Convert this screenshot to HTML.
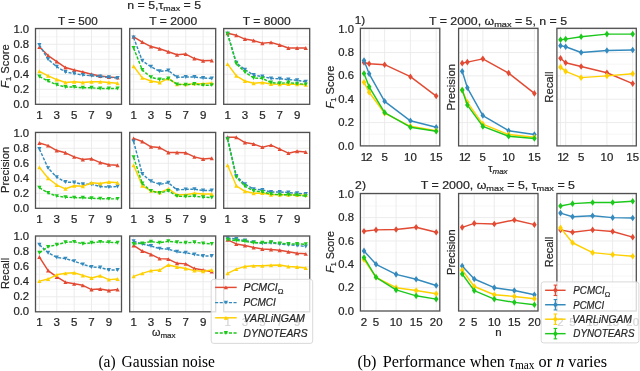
<!DOCTYPE html><html><head><meta charset="utf-8"><style>html,body{margin:0;padding:0;background:#fff;}svg{display:block;will-change:transform;}</style></head><body>
<svg width="640" height="371" viewBox="0 0 640 371" font-family='"Liberation Sans", sans-serif' fill="#262626">
<style>text{stroke:#262626;stroke-width:0.2px;} text.cap{stroke:#000;stroke-width:0px;}</style>
<rect width="640" height="371" fill="#fff"/>
<line x1="35.50" y1="96.80" x2="121.50" y2="96.80" stroke="#f4f4f4" stroke-width="0.8"/><line x1="35.50" y1="89.30" x2="121.50" y2="89.30" stroke="#eaeaea" stroke-width="0.9"/><line x1="35.50" y1="81.80" x2="121.50" y2="81.80" stroke="#f4f4f4" stroke-width="0.8"/><line x1="35.50" y1="74.30" x2="121.50" y2="74.30" stroke="#eaeaea" stroke-width="0.9"/><line x1="35.50" y1="66.80" x2="121.50" y2="66.80" stroke="#f4f4f4" stroke-width="0.8"/><line x1="35.50" y1="59.30" x2="121.50" y2="59.30" stroke="#eaeaea" stroke-width="0.9"/><line x1="35.50" y1="51.80" x2="121.50" y2="51.80" stroke="#f4f4f4" stroke-width="0.8"/><line x1="35.50" y1="44.30" x2="121.50" y2="44.30" stroke="#eaeaea" stroke-width="0.9"/><line x1="35.50" y1="36.80" x2="121.50" y2="36.80" stroke="#f4f4f4" stroke-width="0.8"/><line x1="35.50" y1="29.30" x2="121.50" y2="29.30" stroke="#eaeaea" stroke-width="0.9"/><line x1="39.41" y1="28.50" x2="39.41" y2="104.30" stroke="#eaeaea" stroke-width="0.9"/><line x1="56.78" y1="28.50" x2="56.78" y2="104.30" stroke="#eaeaea" stroke-width="0.9"/><line x1="74.16" y1="28.50" x2="74.16" y2="104.30" stroke="#eaeaea" stroke-width="0.9"/><line x1="91.53" y1="28.50" x2="91.53" y2="104.30" stroke="#eaeaea" stroke-width="0.9"/><line x1="108.90" y1="28.50" x2="108.90" y2="104.30" stroke="#eaeaea" stroke-width="0.9"/>
<polyline points="39.41,46.92 48.10,55.55 56.78,61.55 65.47,67.55 74.16,70.03 82.84,72.05 91.53,74.30 100.22,75.95 108.90,77.00 117.59,77.60" fill="none" stroke="#E24A33" stroke-width="1.45" stroke-linejoin="round"/>
<polygon points="39.41,44.97 37.31,48.88 41.51,48.88" fill="#E24A33"/><polygon points="48.10,53.60 46.00,57.50 50.20,57.50" fill="#E24A33"/><polygon points="56.78,59.60 54.68,63.50 58.88,63.50" fill="#E24A33"/><polygon points="65.47,65.60 63.37,69.50 67.57,69.50" fill="#E24A33"/><polygon points="74.16,68.08 72.06,71.98 76.26,71.98" fill="#E24A33"/><polygon points="82.84,70.10 80.74,74.00 84.94,74.00" fill="#E24A33"/><polygon points="91.53,72.35 89.43,76.25 93.63,76.25" fill="#E24A33"/><polygon points="100.22,74.00 98.12,77.90 102.32,77.90" fill="#E24A33"/><polygon points="108.90,75.05 106.80,78.95 111.00,78.95" fill="#E24A33"/><polygon points="117.59,75.65 115.49,79.55 119.69,79.55" fill="#E24A33"/>
<polyline points="39.41,45.05 48.10,59.30 56.78,66.80 65.47,72.05 74.16,73.55 82.84,75.05 91.53,75.80 100.22,76.55 108.90,77.30 117.59,78.05" fill="none" stroke="#348ABD" stroke-width="1.45" stroke-linejoin="round" stroke-dasharray="3.1,1.5"/>
<polygon points="39.41,47.00 37.31,43.10 41.51,43.10" fill="#348ABD"/><polygon points="48.10,61.25 46.00,57.35 50.20,57.35" fill="#348ABD"/><polygon points="56.78,68.75 54.68,64.85 58.88,64.85" fill="#348ABD"/><polygon points="65.47,74.00 63.37,70.10 67.57,70.10" fill="#348ABD"/><polygon points="74.16,75.50 72.06,71.60 76.26,71.60" fill="#348ABD"/><polygon points="82.84,77.00 80.74,73.10 84.94,73.10" fill="#348ABD"/><polygon points="91.53,77.75 89.43,73.85 93.63,73.85" fill="#348ABD"/><polygon points="100.22,78.50 98.12,74.60 102.32,74.60" fill="#348ABD"/><polygon points="108.90,79.25 106.80,75.35 111.00,75.35" fill="#348ABD"/><polygon points="117.59,80.00 115.49,76.10 119.69,76.10" fill="#348ABD"/>
<polyline points="39.41,71.30 48.10,75.80 56.78,79.55 65.47,82.55 74.16,81.80 82.84,82.55 91.53,81.80 100.22,81.80 108.90,82.55 117.59,83.30" fill="none" stroke="#FFD000" stroke-width="1.45" stroke-linejoin="round"/>
<polygon points="39.41,69.35 37.31,73.25 41.51,73.25" fill="#FFD000"/><polygon points="48.10,73.85 46.00,77.75 50.20,77.75" fill="#FFD000"/><polygon points="56.78,77.60 54.68,81.50 58.88,81.50" fill="#FFD000"/><polygon points="65.47,80.60 63.37,84.50 67.57,84.50" fill="#FFD000"/><polygon points="74.16,79.85 72.06,83.75 76.26,83.75" fill="#FFD000"/><polygon points="82.84,80.60 80.74,84.50 84.94,84.50" fill="#FFD000"/><polygon points="91.53,79.85 89.43,83.75 93.63,83.75" fill="#FFD000"/><polygon points="100.22,79.85 98.12,83.75 102.32,83.75" fill="#FFD000"/><polygon points="108.90,80.60 106.80,84.50 111.00,84.50" fill="#FFD000"/><polygon points="117.59,81.35 115.49,85.25 119.69,85.25" fill="#FFD000"/>
<polyline points="39.41,76.55 48.10,81.05 56.78,84.80 65.47,87.05 74.16,87.05 82.84,87.80 91.53,87.80 100.22,88.55 108.90,88.55 117.59,88.55" fill="none" stroke="#1DC81D" stroke-width="1.45" stroke-linejoin="round" stroke-dasharray="3.1,1.5"/>
<polygon points="39.41,78.50 37.31,74.60 41.51,74.60" fill="#1DC81D"/><polygon points="48.10,83.00 46.00,79.10 50.20,79.10" fill="#1DC81D"/><polygon points="56.78,86.75 54.68,82.85 58.88,82.85" fill="#1DC81D"/><polygon points="65.47,89.00 63.37,85.10 67.57,85.10" fill="#1DC81D"/><polygon points="74.16,89.00 72.06,85.10 76.26,85.10" fill="#1DC81D"/><polygon points="82.84,89.75 80.74,85.85 84.94,85.85" fill="#1DC81D"/><polygon points="91.53,89.75 89.43,85.85 93.63,85.85" fill="#1DC81D"/><polygon points="100.22,90.50 98.12,86.60 102.32,86.60" fill="#1DC81D"/><polygon points="108.90,90.50 106.80,86.60 111.00,86.60" fill="#1DC81D"/><polygon points="117.59,90.50 115.49,86.60 119.69,86.60" fill="#1DC81D"/>
<rect x="35.50" y="28.50" width="86.00" height="75.80" fill="none" stroke="#505050" stroke-width="1.3"/>
<text id="lxt001" x="39.409" y="118.900" font-size="10" text-anchor="middle" textLength="6.400" lengthAdjust="spacingAndGlyphs">1</text>
<text id="lxt003" x="56.783" y="118.900" font-size="10" text-anchor="middle" textLength="6.400" lengthAdjust="spacingAndGlyphs">3</text>
<text id="lxt005" x="74.157" y="118.900" font-size="10" text-anchor="middle" textLength="6.400" lengthAdjust="spacingAndGlyphs">5</text>
<text id="lxt007" x="91.530" y="118.900" font-size="10" text-anchor="middle" textLength="6.400" lengthAdjust="spacingAndGlyphs">7</text>
<text id="lxt009" x="108.904" y="118.900" font-size="10" text-anchor="middle" textLength="6.400" lengthAdjust="spacingAndGlyphs">9</text>
<text id="lyt00" x="29.100" y="107.900" font-size="10" text-anchor="end" textLength="15.700" lengthAdjust="spacingAndGlyphs">0.0</text>
<text id="lyt01" x="29.100" y="92.900" font-size="10" text-anchor="end" textLength="15.700" lengthAdjust="spacingAndGlyphs">0.2</text>
<text id="lyt02" x="29.100" y="77.900" font-size="10" text-anchor="end" textLength="15.700" lengthAdjust="spacingAndGlyphs">0.4</text>
<text id="lyt03" x="29.100" y="62.900" font-size="10" text-anchor="end" textLength="15.700" lengthAdjust="spacingAndGlyphs">0.6</text>
<text id="lyt04" x="29.100" y="47.900" font-size="10" text-anchor="end" textLength="15.700" lengthAdjust="spacingAndGlyphs">0.8</text>
<text id="lyt05" x="29.100" y="32.900" font-size="10" text-anchor="end" textLength="15.700" lengthAdjust="spacingAndGlyphs">1.0</text>
<line x1="129.70" y1="96.80" x2="215.70" y2="96.80" stroke="#f4f4f4" stroke-width="0.8"/><line x1="129.70" y1="89.30" x2="215.70" y2="89.30" stroke="#eaeaea" stroke-width="0.9"/><line x1="129.70" y1="81.80" x2="215.70" y2="81.80" stroke="#f4f4f4" stroke-width="0.8"/><line x1="129.70" y1="74.30" x2="215.70" y2="74.30" stroke="#eaeaea" stroke-width="0.9"/><line x1="129.70" y1="66.80" x2="215.70" y2="66.80" stroke="#f4f4f4" stroke-width="0.8"/><line x1="129.70" y1="59.30" x2="215.70" y2="59.30" stroke="#eaeaea" stroke-width="0.9"/><line x1="129.70" y1="51.80" x2="215.70" y2="51.80" stroke="#f4f4f4" stroke-width="0.8"/><line x1="129.70" y1="44.30" x2="215.70" y2="44.30" stroke="#eaeaea" stroke-width="0.9"/><line x1="129.70" y1="36.80" x2="215.70" y2="36.80" stroke="#f4f4f4" stroke-width="0.8"/><line x1="129.70" y1="29.30" x2="215.70" y2="29.30" stroke="#eaeaea" stroke-width="0.9"/><line x1="133.61" y1="28.50" x2="133.61" y2="104.30" stroke="#eaeaea" stroke-width="0.9"/><line x1="150.98" y1="28.50" x2="150.98" y2="104.30" stroke="#eaeaea" stroke-width="0.9"/><line x1="168.36" y1="28.50" x2="168.36" y2="104.30" stroke="#eaeaea" stroke-width="0.9"/><line x1="185.73" y1="28.50" x2="185.73" y2="104.30" stroke="#eaeaea" stroke-width="0.9"/><line x1="203.10" y1="28.50" x2="203.10" y2="104.30" stroke="#eaeaea" stroke-width="0.9"/>
<polyline points="133.61,36.80 142.30,42.05 150.98,46.55 159.67,48.80 168.36,51.80 177.04,54.80 185.73,54.05 194.42,58.55 203.10,60.80 211.79,60.42" fill="none" stroke="#E24A33" stroke-width="1.45" stroke-linejoin="round"/>
<polygon points="133.61,34.85 131.51,38.75 135.71,38.75" fill="#E24A33"/><polygon points="142.30,40.10 140.20,44.00 144.40,44.00" fill="#E24A33"/><polygon points="150.98,44.60 148.88,48.50 153.08,48.50" fill="#E24A33"/><polygon points="159.67,46.85 157.57,50.75 161.77,50.75" fill="#E24A33"/><polygon points="168.36,49.85 166.26,53.75 170.46,53.75" fill="#E24A33"/><polygon points="177.04,52.85 174.94,56.75 179.14,56.75" fill="#E24A33"/><polygon points="185.73,52.10 183.63,56.00 187.83,56.00" fill="#E24A33"/><polygon points="194.42,56.60 192.32,60.50 196.52,60.50" fill="#E24A33"/><polygon points="203.10,58.85 201.00,62.75 205.20,62.75" fill="#E24A33"/><polygon points="211.79,58.47 209.69,62.38 213.89,62.38" fill="#E24A33"/>
<polyline points="133.61,37.55 142.30,60.80 150.98,66.80 159.67,71.30 168.36,70.55 177.04,77.30 185.73,77.00 194.42,77.00 203.10,78.05 211.79,78.42" fill="none" stroke="#348ABD" stroke-width="1.45" stroke-linejoin="round" stroke-dasharray="3.1,1.5"/>
<polygon points="133.61,39.50 131.51,35.60 135.71,35.60" fill="#348ABD"/><polygon points="142.30,62.75 140.20,58.85 144.40,58.85" fill="#348ABD"/><polygon points="150.98,68.75 148.88,64.85 153.08,64.85" fill="#348ABD"/><polygon points="159.67,73.25 157.57,69.35 161.77,69.35" fill="#348ABD"/><polygon points="168.36,72.50 166.26,68.60 170.46,68.60" fill="#348ABD"/><polygon points="177.04,79.25 174.94,75.35 179.14,75.35" fill="#348ABD"/><polygon points="185.73,78.95 183.63,75.05 187.83,75.05" fill="#348ABD"/><polygon points="194.42,78.95 192.32,75.05 196.52,75.05" fill="#348ABD"/><polygon points="203.10,80.00 201.00,76.10 205.20,76.10" fill="#348ABD"/><polygon points="211.79,80.38 209.69,76.47 213.89,76.47" fill="#348ABD"/>
<polyline points="133.61,66.28 142.30,77.83 150.98,81.05 159.67,82.55 168.36,78.42 177.04,84.35 185.73,84.35 194.42,83.67 203.10,83.67 211.79,83.08" fill="none" stroke="#FFD000" stroke-width="1.45" stroke-linejoin="round"/>
<polygon points="133.61,64.33 131.51,68.23 135.71,68.23" fill="#FFD000"/><polygon points="142.30,75.88 140.20,79.78 144.40,79.78" fill="#FFD000"/><polygon points="150.98,79.10 148.88,83.00 153.08,83.00" fill="#FFD000"/><polygon points="159.67,80.60 157.57,84.50 161.77,84.50" fill="#FFD000"/><polygon points="168.36,76.47 166.26,80.38 170.46,80.38" fill="#FFD000"/><polygon points="177.04,82.40 174.94,86.30 179.14,86.30" fill="#FFD000"/><polygon points="185.73,82.40 183.63,86.30 187.83,86.30" fill="#FFD000"/><polygon points="194.42,81.72 192.32,85.62 196.52,85.62" fill="#FFD000"/><polygon points="203.10,81.72 201.00,85.62 205.20,85.62" fill="#FFD000"/><polygon points="211.79,81.12 209.69,85.03 213.89,85.03" fill="#FFD000"/>
<polyline points="133.61,48.05 142.30,70.03 150.98,77.30 159.67,79.55 168.36,78.42 177.04,84.35 185.73,84.80 194.42,84.05 203.10,85.17 211.79,85.17" fill="none" stroke="#1DC81D" stroke-width="1.45" stroke-linejoin="round" stroke-dasharray="3.1,1.5"/>
<polygon points="133.61,50.00 131.51,46.10 135.71,46.10" fill="#1DC81D"/><polygon points="142.30,71.98 140.20,68.08 144.40,68.08" fill="#1DC81D"/><polygon points="150.98,79.25 148.88,75.35 153.08,75.35" fill="#1DC81D"/><polygon points="159.67,81.50 157.57,77.60 161.77,77.60" fill="#1DC81D"/><polygon points="168.36,80.38 166.26,76.47 170.46,76.47" fill="#1DC81D"/><polygon points="177.04,86.30 174.94,82.40 179.14,82.40" fill="#1DC81D"/><polygon points="185.73,86.75 183.63,82.85 187.83,82.85" fill="#1DC81D"/><polygon points="194.42,86.00 192.32,82.10 196.52,82.10" fill="#1DC81D"/><polygon points="203.10,87.12 201.00,83.22 205.20,83.22" fill="#1DC81D"/><polygon points="211.79,87.12 209.69,83.22 213.89,83.22" fill="#1DC81D"/>
<rect x="129.70" y="28.50" width="86.00" height="75.80" fill="none" stroke="#505050" stroke-width="1.3"/>
<text id="lxt011" x="133.609" y="118.900" font-size="10" text-anchor="middle" textLength="6.400" lengthAdjust="spacingAndGlyphs">1</text>
<text id="lxt013" x="150.983" y="118.900" font-size="10" text-anchor="middle" textLength="6.400" lengthAdjust="spacingAndGlyphs">3</text>
<text id="lxt015" x="168.357" y="118.900" font-size="10" text-anchor="middle" textLength="6.400" lengthAdjust="spacingAndGlyphs">5</text>
<text id="lxt017" x="185.730" y="118.900" font-size="10" text-anchor="middle" textLength="6.400" lengthAdjust="spacingAndGlyphs">7</text>
<text id="lxt019" x="203.104" y="118.900" font-size="10" text-anchor="middle" textLength="6.400" lengthAdjust="spacingAndGlyphs">9</text>
<line x1="223.70" y1="96.80" x2="309.70" y2="96.80" stroke="#f4f4f4" stroke-width="0.8"/><line x1="223.70" y1="89.30" x2="309.70" y2="89.30" stroke="#eaeaea" stroke-width="0.9"/><line x1="223.70" y1="81.80" x2="309.70" y2="81.80" stroke="#f4f4f4" stroke-width="0.8"/><line x1="223.70" y1="74.30" x2="309.70" y2="74.30" stroke="#eaeaea" stroke-width="0.9"/><line x1="223.70" y1="66.80" x2="309.70" y2="66.80" stroke="#f4f4f4" stroke-width="0.8"/><line x1="223.70" y1="59.30" x2="309.70" y2="59.30" stroke="#eaeaea" stroke-width="0.9"/><line x1="223.70" y1="51.80" x2="309.70" y2="51.80" stroke="#f4f4f4" stroke-width="0.8"/><line x1="223.70" y1="44.30" x2="309.70" y2="44.30" stroke="#eaeaea" stroke-width="0.9"/><line x1="223.70" y1="36.80" x2="309.70" y2="36.80" stroke="#f4f4f4" stroke-width="0.8"/><line x1="223.70" y1="29.30" x2="309.70" y2="29.30" stroke="#eaeaea" stroke-width="0.9"/><line x1="227.61" y1="28.50" x2="227.61" y2="104.30" stroke="#eaeaea" stroke-width="0.9"/><line x1="244.98" y1="28.50" x2="244.98" y2="104.30" stroke="#eaeaea" stroke-width="0.9"/><line x1="262.36" y1="28.50" x2="262.36" y2="104.30" stroke="#eaeaea" stroke-width="0.9"/><line x1="279.73" y1="28.50" x2="279.73" y2="104.30" stroke="#eaeaea" stroke-width="0.9"/><line x1="297.10" y1="28.50" x2="297.10" y2="104.30" stroke="#eaeaea" stroke-width="0.9"/>
<polyline points="227.61,33.28 236.30,35.30 244.98,39.05 253.67,40.55 262.36,43.18 271.04,42.35 279.73,45.05 288.42,48.05 297.10,48.05 305.79,48.05" fill="none" stroke="#E24A33" stroke-width="1.45" stroke-linejoin="round"/>
<polygon points="227.61,31.33 225.51,35.23 229.71,35.23" fill="#E24A33"/><polygon points="236.30,33.35 234.20,37.25 238.40,37.25" fill="#E24A33"/><polygon points="244.98,37.10 242.88,41.00 247.08,41.00" fill="#E24A33"/><polygon points="253.67,38.60 251.57,42.50 255.77,42.50" fill="#E24A33"/><polygon points="262.36,41.23 260.26,45.13 264.46,45.13" fill="#E24A33"/><polygon points="271.04,40.40 268.94,44.30 273.14,44.30" fill="#E24A33"/><polygon points="279.73,43.10 277.63,47.00 281.83,47.00" fill="#E24A33"/><polygon points="288.42,46.10 286.32,50.00 290.52,50.00" fill="#E24A33"/><polygon points="297.10,46.10 295.00,50.00 299.20,50.00" fill="#E24A33"/><polygon points="305.79,46.10 303.69,50.00 307.89,50.00" fill="#E24A33"/>
<polyline points="227.61,33.80 236.30,62.67 244.98,69.80 253.67,75.05 262.36,76.55 271.04,78.42 279.73,78.80 288.42,79.55 297.10,80.30 305.79,81.80" fill="none" stroke="#348ABD" stroke-width="1.45" stroke-linejoin="round" stroke-dasharray="3.1,1.5"/>
<polygon points="227.61,35.75 225.51,31.85 229.71,31.85" fill="#348ABD"/><polygon points="236.30,64.62 234.20,60.72 238.40,60.72" fill="#348ABD"/><polygon points="244.98,71.75 242.88,67.85 247.08,67.85" fill="#348ABD"/><polygon points="253.67,77.00 251.57,73.10 255.77,73.10" fill="#348ABD"/><polygon points="262.36,78.50 260.26,74.60 264.46,74.60" fill="#348ABD"/><polygon points="271.04,80.38 268.94,76.47 273.14,76.47" fill="#348ABD"/><polygon points="279.73,80.75 277.63,76.85 281.83,76.85" fill="#348ABD"/><polygon points="288.42,81.50 286.32,77.60 290.52,77.60" fill="#348ABD"/><polygon points="297.10,82.25 295.00,78.35 299.20,78.35" fill="#348ABD"/><polygon points="305.79,83.75 303.69,79.85 307.89,79.85" fill="#348ABD"/>
<polyline points="227.61,64.17 236.30,75.80 244.98,81.05 253.67,83.30 262.36,82.55 271.04,84.05 279.73,84.35 288.42,84.05 297.10,84.35 305.79,84.80" fill="none" stroke="#FFD000" stroke-width="1.45" stroke-linejoin="round"/>
<polygon points="227.61,62.22 225.51,66.12 229.71,66.12" fill="#FFD000"/><polygon points="236.30,73.85 234.20,77.75 238.40,77.75" fill="#FFD000"/><polygon points="244.98,79.10 242.88,83.00 247.08,83.00" fill="#FFD000"/><polygon points="253.67,81.35 251.57,85.25 255.77,85.25" fill="#FFD000"/><polygon points="262.36,80.60 260.26,84.50 264.46,84.50" fill="#FFD000"/><polygon points="271.04,82.10 268.94,86.00 273.14,86.00" fill="#FFD000"/><polygon points="279.73,82.40 277.63,86.30 281.83,86.30" fill="#FFD000"/><polygon points="288.42,82.10 286.32,86.00 290.52,86.00" fill="#FFD000"/><polygon points="297.10,82.40 295.00,86.30 299.20,86.30" fill="#FFD000"/><polygon points="305.79,82.85 303.69,86.75 307.89,86.75" fill="#FFD000"/>
<polyline points="227.61,33.80 236.30,63.80 244.98,72.05 253.67,78.05 262.36,78.42 271.04,82.55 279.73,83.30 288.42,82.55 297.10,83.67 305.79,84.35" fill="none" stroke="#1DC81D" stroke-width="1.45" stroke-linejoin="round" stroke-dasharray="3.1,1.5"/>
<polygon points="227.61,35.75 225.51,31.85 229.71,31.85" fill="#1DC81D"/><polygon points="236.30,65.75 234.20,61.85 238.40,61.85" fill="#1DC81D"/><polygon points="244.98,74.00 242.88,70.10 247.08,70.10" fill="#1DC81D"/><polygon points="253.67,80.00 251.57,76.10 255.77,76.10" fill="#1DC81D"/><polygon points="262.36,80.38 260.26,76.47 264.46,76.47" fill="#1DC81D"/><polygon points="271.04,84.50 268.94,80.60 273.14,80.60" fill="#1DC81D"/><polygon points="279.73,85.25 277.63,81.35 281.83,81.35" fill="#1DC81D"/><polygon points="288.42,84.50 286.32,80.60 290.52,80.60" fill="#1DC81D"/><polygon points="297.10,85.62 295.00,81.72 299.20,81.72" fill="#1DC81D"/><polygon points="305.79,86.30 303.69,82.40 307.89,82.40" fill="#1DC81D"/>
<rect x="223.70" y="28.50" width="86.00" height="75.80" fill="none" stroke="#505050" stroke-width="1.3"/>
<text id="lxt021" x="227.609" y="118.900" font-size="10" text-anchor="middle" textLength="6.400" lengthAdjust="spacingAndGlyphs">1</text>
<text id="lxt023" x="244.983" y="118.900" font-size="10" text-anchor="middle" textLength="6.400" lengthAdjust="spacingAndGlyphs">3</text>
<text id="lxt025" x="262.357" y="118.900" font-size="10" text-anchor="middle" textLength="6.400" lengthAdjust="spacingAndGlyphs">5</text>
<text id="lxt027" x="279.730" y="118.900" font-size="10" text-anchor="middle" textLength="6.400" lengthAdjust="spacingAndGlyphs">7</text>
<text id="lxt029" x="297.104" y="118.900" font-size="10" text-anchor="middle" textLength="6.400" lengthAdjust="spacingAndGlyphs">9</text>
<line x1="35.50" y1="200.80" x2="121.50" y2="200.80" stroke="#f4f4f4" stroke-width="0.8"/><line x1="35.50" y1="193.30" x2="121.50" y2="193.30" stroke="#eaeaea" stroke-width="0.9"/><line x1="35.50" y1="185.80" x2="121.50" y2="185.80" stroke="#f4f4f4" stroke-width="0.8"/><line x1="35.50" y1="178.30" x2="121.50" y2="178.30" stroke="#eaeaea" stroke-width="0.9"/><line x1="35.50" y1="170.80" x2="121.50" y2="170.80" stroke="#f4f4f4" stroke-width="0.8"/><line x1="35.50" y1="163.30" x2="121.50" y2="163.30" stroke="#eaeaea" stroke-width="0.9"/><line x1="35.50" y1="155.80" x2="121.50" y2="155.80" stroke="#f4f4f4" stroke-width="0.8"/><line x1="35.50" y1="148.30" x2="121.50" y2="148.30" stroke="#eaeaea" stroke-width="0.9"/><line x1="35.50" y1="140.80" x2="121.50" y2="140.80" stroke="#f4f4f4" stroke-width="0.8"/><line x1="35.50" y1="133.30" x2="121.50" y2="133.30" stroke="#eaeaea" stroke-width="0.9"/><line x1="39.41" y1="132.40" x2="39.41" y2="208.30" stroke="#eaeaea" stroke-width="0.9"/><line x1="56.78" y1="132.40" x2="56.78" y2="208.30" stroke="#eaeaea" stroke-width="0.9"/><line x1="74.16" y1="132.40" x2="74.16" y2="208.30" stroke="#eaeaea" stroke-width="0.9"/><line x1="91.53" y1="132.40" x2="91.53" y2="208.30" stroke="#eaeaea" stroke-width="0.9"/><line x1="108.90" y1="132.40" x2="108.90" y2="208.30" stroke="#eaeaea" stroke-width="0.9"/>
<polyline points="39.41,143.05 48.10,145.68 56.78,150.55 65.47,152.80 74.16,156.85 82.84,159.55 91.53,158.80 100.22,162.55 108.90,164.80 117.59,165.25" fill="none" stroke="#E24A33" stroke-width="1.45" stroke-linejoin="round"/>
<polygon points="39.41,141.10 37.31,145.00 41.51,145.00" fill="#E24A33"/><polygon points="48.10,143.73 46.00,147.62 50.20,147.62" fill="#E24A33"/><polygon points="56.78,148.60 54.68,152.50 58.88,152.50" fill="#E24A33"/><polygon points="65.47,150.85 63.37,154.75 67.57,154.75" fill="#E24A33"/><polygon points="74.16,154.90 72.06,158.80 76.26,158.80" fill="#E24A33"/><polygon points="82.84,157.60 80.74,161.50 84.94,161.50" fill="#E24A33"/><polygon points="91.53,156.85 89.43,160.75 93.63,160.75" fill="#E24A33"/><polygon points="100.22,160.60 98.12,164.50 102.32,164.50" fill="#E24A33"/><polygon points="108.90,162.85 106.80,166.75 111.00,166.75" fill="#E24A33"/><polygon points="117.59,163.30 115.49,167.20 119.69,167.20" fill="#E24A33"/>
<polyline points="39.41,149.05 48.10,168.18 56.78,177.18 65.47,182.05 74.16,182.43 82.84,184.30 91.53,184.30 100.22,186.55 108.90,187.08 117.59,186.55" fill="none" stroke="#348ABD" stroke-width="1.45" stroke-linejoin="round" stroke-dasharray="3.1,1.5"/>
<polygon points="39.41,151.00 37.31,147.10 41.51,147.10" fill="#348ABD"/><polygon points="48.10,170.12 46.00,166.23 50.20,166.23" fill="#348ABD"/><polygon points="56.78,179.12 54.68,175.23 58.88,175.23" fill="#348ABD"/><polygon points="65.47,184.00 63.37,180.10 67.57,180.10" fill="#348ABD"/><polygon points="74.16,184.38 72.06,180.48 76.26,180.48" fill="#348ABD"/><polygon points="82.84,186.25 80.74,182.35 84.94,182.35" fill="#348ABD"/><polygon points="91.53,186.25 89.43,182.35 93.63,182.35" fill="#348ABD"/><polygon points="100.22,188.50 98.12,184.60 102.32,184.60" fill="#348ABD"/><polygon points="108.90,189.03 106.80,185.13 111.00,185.13" fill="#348ABD"/><polygon points="117.59,188.50 115.49,184.60 119.69,184.60" fill="#348ABD"/>
<polyline points="39.41,167.35 48.10,178.30 56.78,185.05 65.47,188.80 74.16,185.80 82.84,186.25 91.53,182.80 100.22,183.55 108.90,182.05 117.59,182.80" fill="none" stroke="#FFD000" stroke-width="1.45" stroke-linejoin="round"/>
<polygon points="39.41,165.40 37.31,169.30 41.51,169.30" fill="#FFD000"/><polygon points="48.10,176.35 46.00,180.25 50.20,180.25" fill="#FFD000"/><polygon points="56.78,183.10 54.68,187.00 58.88,187.00" fill="#FFD000"/><polygon points="65.47,186.85 63.37,190.75 67.57,190.75" fill="#FFD000"/><polygon points="74.16,183.85 72.06,187.75 76.26,187.75" fill="#FFD000"/><polygon points="82.84,184.30 80.74,188.20 84.94,188.20" fill="#FFD000"/><polygon points="91.53,180.85 89.43,184.75 93.63,184.75" fill="#FFD000"/><polygon points="100.22,181.60 98.12,185.50 102.32,185.50" fill="#FFD000"/><polygon points="108.90,180.10 106.80,184.00 111.00,184.00" fill="#FFD000"/><polygon points="117.59,180.85 115.49,184.75 119.69,184.75" fill="#FFD000"/>
<polyline points="39.41,187.68 48.10,193.00 56.78,196.15 65.47,197.20 74.16,197.58 82.84,197.80 91.53,198.25 100.22,198.62 108.90,198.85 117.59,198.85" fill="none" stroke="#1DC81D" stroke-width="1.45" stroke-linejoin="round" stroke-dasharray="3.1,1.5"/>
<polygon points="39.41,189.62 37.31,185.73 41.51,185.73" fill="#1DC81D"/><polygon points="48.10,194.95 46.00,191.05 50.20,191.05" fill="#1DC81D"/><polygon points="56.78,198.10 54.68,194.20 58.88,194.20" fill="#1DC81D"/><polygon points="65.47,199.15 63.37,195.25 67.57,195.25" fill="#1DC81D"/><polygon points="74.16,199.53 72.06,195.63 76.26,195.63" fill="#1DC81D"/><polygon points="82.84,199.75 80.74,195.85 84.94,195.85" fill="#1DC81D"/><polygon points="91.53,200.20 89.43,196.30 93.63,196.30" fill="#1DC81D"/><polygon points="100.22,200.57 98.12,196.68 102.32,196.68" fill="#1DC81D"/><polygon points="108.90,200.80 106.80,196.90 111.00,196.90" fill="#1DC81D"/><polygon points="117.59,200.80 115.49,196.90 119.69,196.90" fill="#1DC81D"/>
<rect x="35.50" y="132.40" width="86.00" height="75.90" fill="none" stroke="#505050" stroke-width="1.3"/>
<text id="lxt101" x="39.409" y="222.900" font-size="10" text-anchor="middle" textLength="6.400" lengthAdjust="spacingAndGlyphs">1</text>
<text id="lxt103" x="56.783" y="222.900" font-size="10" text-anchor="middle" textLength="6.400" lengthAdjust="spacingAndGlyphs">3</text>
<text id="lxt105" x="74.157" y="222.900" font-size="10" text-anchor="middle" textLength="6.400" lengthAdjust="spacingAndGlyphs">5</text>
<text id="lxt107" x="91.530" y="222.900" font-size="10" text-anchor="middle" textLength="6.400" lengthAdjust="spacingAndGlyphs">7</text>
<text id="lxt109" x="108.904" y="222.900" font-size="10" text-anchor="middle" textLength="6.400" lengthAdjust="spacingAndGlyphs">9</text>
<text id="lyt10" x="29.100" y="211.900" font-size="10" text-anchor="end" textLength="15.700" lengthAdjust="spacingAndGlyphs">0.0</text>
<text id="lyt11" x="29.100" y="196.900" font-size="10" text-anchor="end" textLength="15.700" lengthAdjust="spacingAndGlyphs">0.2</text>
<text id="lyt12" x="29.100" y="181.900" font-size="10" text-anchor="end" textLength="15.700" lengthAdjust="spacingAndGlyphs">0.4</text>
<text id="lyt13" x="29.100" y="166.900" font-size="10" text-anchor="end" textLength="15.700" lengthAdjust="spacingAndGlyphs">0.6</text>
<text id="lyt14" x="29.100" y="151.900" font-size="10" text-anchor="end" textLength="15.700" lengthAdjust="spacingAndGlyphs">0.8</text>
<text id="lyt15" x="29.100" y="136.900" font-size="10" text-anchor="end" textLength="15.700" lengthAdjust="spacingAndGlyphs">1.0</text>
<line x1="129.70" y1="200.80" x2="215.70" y2="200.80" stroke="#f4f4f4" stroke-width="0.8"/><line x1="129.70" y1="193.30" x2="215.70" y2="193.30" stroke="#eaeaea" stroke-width="0.9"/><line x1="129.70" y1="185.80" x2="215.70" y2="185.80" stroke="#f4f4f4" stroke-width="0.8"/><line x1="129.70" y1="178.30" x2="215.70" y2="178.30" stroke="#eaeaea" stroke-width="0.9"/><line x1="129.70" y1="170.80" x2="215.70" y2="170.80" stroke="#f4f4f4" stroke-width="0.8"/><line x1="129.70" y1="163.30" x2="215.70" y2="163.30" stroke="#eaeaea" stroke-width="0.9"/><line x1="129.70" y1="155.80" x2="215.70" y2="155.80" stroke="#f4f4f4" stroke-width="0.8"/><line x1="129.70" y1="148.30" x2="215.70" y2="148.30" stroke="#eaeaea" stroke-width="0.9"/><line x1="129.70" y1="140.80" x2="215.70" y2="140.80" stroke="#f4f4f4" stroke-width="0.8"/><line x1="129.70" y1="133.30" x2="215.70" y2="133.30" stroke="#eaeaea" stroke-width="0.9"/><line x1="133.61" y1="132.40" x2="133.61" y2="208.30" stroke="#eaeaea" stroke-width="0.9"/><line x1="150.98" y1="132.40" x2="150.98" y2="208.30" stroke="#eaeaea" stroke-width="0.9"/><line x1="168.36" y1="132.40" x2="168.36" y2="208.30" stroke="#eaeaea" stroke-width="0.9"/><line x1="185.73" y1="132.40" x2="185.73" y2="208.30" stroke="#eaeaea" stroke-width="0.9"/><line x1="203.10" y1="132.40" x2="203.10" y2="208.30" stroke="#eaeaea" stroke-width="0.9"/>
<polyline points="133.61,138.32 142.30,141.55 150.98,146.80 159.67,147.55 168.36,152.43 177.04,152.43 185.73,152.80 194.42,156.85 203.10,158.95 211.79,158.28" fill="none" stroke="#E24A33" stroke-width="1.45" stroke-linejoin="round"/>
<polygon points="133.61,136.38 131.51,140.27 135.71,140.27" fill="#E24A33"/><polygon points="142.30,139.60 140.20,143.50 144.40,143.50" fill="#E24A33"/><polygon points="150.98,144.85 148.88,148.75 153.08,148.75" fill="#E24A33"/><polygon points="159.67,145.60 157.57,149.50 161.77,149.50" fill="#E24A33"/><polygon points="168.36,150.48 166.26,154.38 170.46,154.38" fill="#E24A33"/><polygon points="177.04,150.48 174.94,154.38 179.14,154.38" fill="#E24A33"/><polygon points="185.73,150.85 183.63,154.75 187.83,154.75" fill="#E24A33"/><polygon points="194.42,154.90 192.32,158.80 196.52,158.80" fill="#E24A33"/><polygon points="203.10,157.00 201.00,160.90 205.20,160.90" fill="#E24A33"/><polygon points="211.79,156.33 209.69,160.22 213.89,160.22" fill="#E24A33"/>
<polyline points="133.61,141.55 142.30,174.03 150.98,181.30 159.67,184.30 168.36,182.80 177.04,189.85 185.73,189.40 194.42,189.18 203.10,190.45 211.79,190.45" fill="none" stroke="#348ABD" stroke-width="1.45" stroke-linejoin="round" stroke-dasharray="3.1,1.5"/>
<polygon points="133.61,143.50 131.51,139.60 135.71,139.60" fill="#348ABD"/><polygon points="142.30,175.97 140.20,172.08 144.40,172.08" fill="#348ABD"/><polygon points="150.98,183.25 148.88,179.35 153.08,179.35" fill="#348ABD"/><polygon points="159.67,186.25 157.57,182.35 161.77,182.35" fill="#348ABD"/><polygon points="168.36,184.75 166.26,180.85 170.46,180.85" fill="#348ABD"/><polygon points="177.04,191.80 174.94,187.90 179.14,187.90" fill="#348ABD"/><polygon points="185.73,191.35 183.63,187.45 187.83,187.45" fill="#348ABD"/><polygon points="194.42,191.12 192.32,187.23 196.52,187.23" fill="#348ABD"/><polygon points="203.10,192.40 201.00,188.50 205.20,188.50" fill="#348ABD"/><polygon points="211.79,192.40 209.69,188.50 213.89,188.50" fill="#348ABD"/>
<polyline points="133.61,165.25 142.30,185.80 150.98,190.90 159.67,192.55 168.36,188.80 177.04,194.80 185.73,194.80 194.42,193.30 203.10,194.05 211.79,194.05" fill="none" stroke="#FFD000" stroke-width="1.45" stroke-linejoin="round"/>
<polygon points="133.61,163.30 131.51,167.20 135.71,167.20" fill="#FFD000"/><polygon points="142.30,183.85 140.20,187.75 144.40,187.75" fill="#FFD000"/><polygon points="150.98,188.95 148.88,192.85 153.08,192.85" fill="#FFD000"/><polygon points="159.67,190.60 157.57,194.50 161.77,194.50" fill="#FFD000"/><polygon points="168.36,186.85 166.26,190.75 170.46,190.75" fill="#FFD000"/><polygon points="177.04,192.85 174.94,196.75 179.14,196.75" fill="#FFD000"/><polygon points="185.73,192.85 183.63,196.75 187.83,196.75" fill="#FFD000"/><polygon points="194.42,191.35 192.32,195.25 196.52,195.25" fill="#FFD000"/><polygon points="203.10,192.10 201.00,196.00 205.20,196.00" fill="#FFD000"/><polygon points="211.79,192.10 209.69,196.00 213.89,196.00" fill="#FFD000"/>
<polyline points="133.61,157.30 142.30,183.55 150.98,190.90 159.67,193.00 168.36,190.90 177.04,196.15 185.73,196.53 194.42,196.15 203.10,197.20 211.79,197.58" fill="none" stroke="#1DC81D" stroke-width="1.45" stroke-linejoin="round" stroke-dasharray="3.1,1.5"/>
<polygon points="133.61,159.25 131.51,155.35 135.71,155.35" fill="#1DC81D"/><polygon points="142.30,185.50 140.20,181.60 144.40,181.60" fill="#1DC81D"/><polygon points="150.98,192.85 148.88,188.95 153.08,188.95" fill="#1DC81D"/><polygon points="159.67,194.95 157.57,191.05 161.77,191.05" fill="#1DC81D"/><polygon points="168.36,192.85 166.26,188.95 170.46,188.95" fill="#1DC81D"/><polygon points="177.04,198.10 174.94,194.20 179.14,194.20" fill="#1DC81D"/><polygon points="185.73,198.47 183.63,194.58 187.83,194.58" fill="#1DC81D"/><polygon points="194.42,198.10 192.32,194.20 196.52,194.20" fill="#1DC81D"/><polygon points="203.10,199.15 201.00,195.25 205.20,195.25" fill="#1DC81D"/><polygon points="211.79,199.53 209.69,195.63 213.89,195.63" fill="#1DC81D"/>
<rect x="129.70" y="132.40" width="86.00" height="75.90" fill="none" stroke="#505050" stroke-width="1.3"/>
<text id="lxt111" x="133.609" y="222.900" font-size="10" text-anchor="middle" textLength="6.400" lengthAdjust="spacingAndGlyphs">1</text>
<text id="lxt113" x="150.983" y="222.900" font-size="10" text-anchor="middle" textLength="6.400" lengthAdjust="spacingAndGlyphs">3</text>
<text id="lxt115" x="168.357" y="222.900" font-size="10" text-anchor="middle" textLength="6.400" lengthAdjust="spacingAndGlyphs">5</text>
<text id="lxt117" x="185.730" y="222.900" font-size="10" text-anchor="middle" textLength="6.400" lengthAdjust="spacingAndGlyphs">7</text>
<text id="lxt119" x="203.104" y="222.900" font-size="10" text-anchor="middle" textLength="6.400" lengthAdjust="spacingAndGlyphs">9</text>
<line x1="223.70" y1="200.80" x2="309.70" y2="200.80" stroke="#f4f4f4" stroke-width="0.8"/><line x1="223.70" y1="193.30" x2="309.70" y2="193.30" stroke="#eaeaea" stroke-width="0.9"/><line x1="223.70" y1="185.80" x2="309.70" y2="185.80" stroke="#f4f4f4" stroke-width="0.8"/><line x1="223.70" y1="178.30" x2="309.70" y2="178.30" stroke="#eaeaea" stroke-width="0.9"/><line x1="223.70" y1="170.80" x2="309.70" y2="170.80" stroke="#f4f4f4" stroke-width="0.8"/><line x1="223.70" y1="163.30" x2="309.70" y2="163.30" stroke="#eaeaea" stroke-width="0.9"/><line x1="223.70" y1="155.80" x2="309.70" y2="155.80" stroke="#f4f4f4" stroke-width="0.8"/><line x1="223.70" y1="148.30" x2="309.70" y2="148.30" stroke="#eaeaea" stroke-width="0.9"/><line x1="223.70" y1="140.80" x2="309.70" y2="140.80" stroke="#f4f4f4" stroke-width="0.8"/><line x1="223.70" y1="133.30" x2="309.70" y2="133.30" stroke="#eaeaea" stroke-width="0.9"/><line x1="227.61" y1="132.40" x2="227.61" y2="208.30" stroke="#eaeaea" stroke-width="0.9"/><line x1="244.98" y1="132.40" x2="244.98" y2="208.30" stroke="#eaeaea" stroke-width="0.9"/><line x1="262.36" y1="132.40" x2="262.36" y2="208.30" stroke="#eaeaea" stroke-width="0.9"/><line x1="279.73" y1="132.40" x2="279.73" y2="208.30" stroke="#eaeaea" stroke-width="0.9"/><line x1="297.10" y1="132.40" x2="297.10" y2="208.30" stroke="#eaeaea" stroke-width="0.9"/>
<polyline points="227.61,137.28 236.30,137.28 244.98,142.53 253.67,144.03 262.36,147.18 271.04,145.08 279.73,149.05 288.42,153.18 297.10,151.30 305.79,152.05" fill="none" stroke="#E24A33" stroke-width="1.45" stroke-linejoin="round"/>
<polygon points="227.61,135.33 225.51,139.23 229.71,139.23" fill="#E24A33"/><polygon points="236.30,135.33 234.20,139.23 238.40,139.23" fill="#E24A33"/><polygon points="244.98,140.58 242.88,144.47 247.08,144.47" fill="#E24A33"/><polygon points="253.67,142.08 251.57,145.97 255.77,145.97" fill="#E24A33"/><polygon points="262.36,145.23 260.26,149.12 264.46,149.12" fill="#E24A33"/><polygon points="271.04,143.13 268.94,147.03 273.14,147.03" fill="#E24A33"/><polygon points="279.73,147.10 277.63,151.00 281.83,151.00" fill="#E24A33"/><polygon points="288.42,151.23 286.32,155.12 290.52,155.12" fill="#E24A33"/><polygon points="297.10,149.35 295.00,153.25 299.20,153.25" fill="#E24A33"/><polygon points="305.79,150.10 303.69,154.00 307.89,154.00" fill="#E24A33"/>
<polyline points="227.61,138.78 236.30,176.05 244.98,184.30 253.67,189.18 262.36,189.85 271.04,191.95 279.73,191.95 288.42,192.55 297.10,193.30 305.79,194.05" fill="none" stroke="#348ABD" stroke-width="1.45" stroke-linejoin="round" stroke-dasharray="3.1,1.5"/>
<polygon points="227.61,140.72 225.51,136.83 229.71,136.83" fill="#348ABD"/><polygon points="236.30,178.00 234.20,174.10 238.40,174.10" fill="#348ABD"/><polygon points="244.98,186.25 242.88,182.35 247.08,182.35" fill="#348ABD"/><polygon points="253.67,191.12 251.57,187.23 255.77,187.23" fill="#348ABD"/><polygon points="262.36,191.80 260.26,187.90 264.46,187.90" fill="#348ABD"/><polygon points="271.04,193.90 268.94,190.00 273.14,190.00" fill="#348ABD"/><polygon points="279.73,193.90 277.63,190.00 281.83,190.00" fill="#348ABD"/><polygon points="288.42,194.50 286.32,190.60 290.52,190.60" fill="#348ABD"/><polygon points="297.10,195.25 295.00,191.35 299.20,191.35" fill="#348ABD"/><polygon points="305.79,196.00 303.69,192.10 307.89,192.10" fill="#348ABD"/>
<polyline points="227.61,165.25 236.30,185.80 244.98,191.28 253.67,193.30 262.36,193.00 271.04,194.80 279.73,194.80 288.42,194.80 297.10,195.10 305.79,195.10" fill="none" stroke="#FFD000" stroke-width="1.45" stroke-linejoin="round"/>
<polygon points="227.61,163.30 225.51,167.20 229.71,167.20" fill="#FFD000"/><polygon points="236.30,183.85 234.20,187.75 238.40,187.75" fill="#FFD000"/><polygon points="244.98,189.33 242.88,193.22 247.08,193.22" fill="#FFD000"/><polygon points="253.67,191.35 251.57,195.25 255.77,195.25" fill="#FFD000"/><polygon points="262.36,191.05 260.26,194.95 264.46,194.95" fill="#FFD000"/><polygon points="271.04,192.85 268.94,196.75 273.14,196.75" fill="#FFD000"/><polygon points="279.73,192.85 277.63,196.75 281.83,196.75" fill="#FFD000"/><polygon points="288.42,192.85 286.32,196.75 290.52,196.75" fill="#FFD000"/><polygon points="297.10,193.15 295.00,197.05 299.20,197.05" fill="#FFD000"/><polygon points="305.79,193.15 303.69,197.05 307.89,197.05" fill="#FFD000"/>
<polyline points="227.61,139.30 236.30,177.18 244.98,186.25 253.67,190.90 262.36,191.95 271.04,194.05 279.73,194.80 288.42,194.80 297.10,195.10 305.79,196.15" fill="none" stroke="#1DC81D" stroke-width="1.45" stroke-linejoin="round" stroke-dasharray="3.1,1.5"/>
<polygon points="227.61,141.25 225.51,137.35 229.71,137.35" fill="#1DC81D"/><polygon points="236.30,179.12 234.20,175.23 238.40,175.23" fill="#1DC81D"/><polygon points="244.98,188.20 242.88,184.30 247.08,184.30" fill="#1DC81D"/><polygon points="253.67,192.85 251.57,188.95 255.77,188.95" fill="#1DC81D"/><polygon points="262.36,193.90 260.26,190.00 264.46,190.00" fill="#1DC81D"/><polygon points="271.04,196.00 268.94,192.10 273.14,192.10" fill="#1DC81D"/><polygon points="279.73,196.75 277.63,192.85 281.83,192.85" fill="#1DC81D"/><polygon points="288.42,196.75 286.32,192.85 290.52,192.85" fill="#1DC81D"/><polygon points="297.10,197.05 295.00,193.15 299.20,193.15" fill="#1DC81D"/><polygon points="305.79,198.10 303.69,194.20 307.89,194.20" fill="#1DC81D"/>
<rect x="223.70" y="132.40" width="86.00" height="75.90" fill="none" stroke="#505050" stroke-width="1.3"/>
<text id="lxt121" x="227.609" y="222.900" font-size="10" text-anchor="middle" textLength="6.400" lengthAdjust="spacingAndGlyphs">1</text>
<text id="lxt123" x="244.983" y="222.900" font-size="10" text-anchor="middle" textLength="6.400" lengthAdjust="spacingAndGlyphs">3</text>
<text id="lxt125" x="262.357" y="222.900" font-size="10" text-anchor="middle" textLength="6.400" lengthAdjust="spacingAndGlyphs">5</text>
<text id="lxt127" x="279.730" y="222.900" font-size="10" text-anchor="middle" textLength="6.400" lengthAdjust="spacingAndGlyphs">7</text>
<text id="lxt129" x="297.104" y="222.900" font-size="10" text-anchor="middle" textLength="6.400" lengthAdjust="spacingAndGlyphs">9</text>
<line x1="35.50" y1="304.30" x2="121.50" y2="304.30" stroke="#f4f4f4" stroke-width="0.8"/><line x1="35.50" y1="296.80" x2="121.50" y2="296.80" stroke="#eaeaea" stroke-width="0.9"/><line x1="35.50" y1="289.30" x2="121.50" y2="289.30" stroke="#f4f4f4" stroke-width="0.8"/><line x1="35.50" y1="281.80" x2="121.50" y2="281.80" stroke="#eaeaea" stroke-width="0.9"/><line x1="35.50" y1="274.30" x2="121.50" y2="274.30" stroke="#f4f4f4" stroke-width="0.8"/><line x1="35.50" y1="266.80" x2="121.50" y2="266.80" stroke="#eaeaea" stroke-width="0.9"/><line x1="35.50" y1="259.30" x2="121.50" y2="259.30" stroke="#f4f4f4" stroke-width="0.8"/><line x1="35.50" y1="251.80" x2="121.50" y2="251.80" stroke="#eaeaea" stroke-width="0.9"/><line x1="35.50" y1="244.30" x2="121.50" y2="244.30" stroke="#f4f4f4" stroke-width="0.8"/><line x1="35.50" y1="236.80" x2="121.50" y2="236.80" stroke="#eaeaea" stroke-width="0.9"/><line x1="39.41" y1="236.00" x2="39.41" y2="311.80" stroke="#eaeaea" stroke-width="0.9"/><line x1="56.78" y1="236.00" x2="56.78" y2="311.80" stroke="#eaeaea" stroke-width="0.9"/><line x1="74.16" y1="236.00" x2="74.16" y2="311.80" stroke="#eaeaea" stroke-width="0.9"/><line x1="91.53" y1="236.00" x2="91.53" y2="311.80" stroke="#eaeaea" stroke-width="0.9"/><line x1="108.90" y1="236.00" x2="108.90" y2="311.80" stroke="#eaeaea" stroke-width="0.9"/>
<polyline points="39.41,257.05 48.10,270.55 56.78,276.93 65.47,282.18 74.16,283.82 82.84,285.32 91.53,289.53 100.22,288.93 108.90,290.57 117.59,289.53" fill="none" stroke="#E24A33" stroke-width="1.45" stroke-linejoin="round"/>
<polygon points="39.41,255.10 37.31,259.00 41.51,259.00" fill="#E24A33"/><polygon points="48.10,268.60 46.00,272.50 50.20,272.50" fill="#E24A33"/><polygon points="56.78,274.98 54.68,278.88 58.88,278.88" fill="#E24A33"/><polygon points="65.47,280.23 63.37,284.12 67.57,284.12" fill="#E24A33"/><polygon points="74.16,281.88 72.06,285.77 76.26,285.77" fill="#E24A33"/><polygon points="82.84,283.38 80.74,287.27 84.94,287.27" fill="#E24A33"/><polygon points="91.53,287.58 89.43,291.48 93.63,291.48" fill="#E24A33"/><polygon points="100.22,286.98 98.12,290.88 102.32,290.88" fill="#E24A33"/><polygon points="108.90,288.62 106.80,292.52 111.00,292.52" fill="#E24A33"/><polygon points="117.59,287.58 115.49,291.48 119.69,291.48" fill="#E24A33"/>
<polyline points="39.41,244.75 48.10,252.78 56.78,257.43 65.47,258.62 74.16,261.18 82.84,264.32 91.53,267.03 100.22,267.55 108.90,270.02 117.59,270.02" fill="none" stroke="#348ABD" stroke-width="1.45" stroke-linejoin="round" stroke-dasharray="3.1,1.5"/>
<polygon points="39.41,246.70 37.31,242.80 41.51,242.80" fill="#348ABD"/><polygon points="48.10,254.72 46.00,250.83 50.20,250.83" fill="#348ABD"/><polygon points="56.78,259.38 54.68,255.48 58.88,255.48" fill="#348ABD"/><polygon points="65.47,260.57 63.37,256.68 67.57,256.68" fill="#348ABD"/><polygon points="74.16,263.12 72.06,259.23 76.26,259.23" fill="#348ABD"/><polygon points="82.84,266.27 80.74,262.38 84.94,262.38" fill="#348ABD"/><polygon points="91.53,268.98 89.43,265.08 93.63,265.08" fill="#348ABD"/><polygon points="100.22,269.50 98.12,265.60 102.32,265.60" fill="#348ABD"/><polygon points="108.90,271.97 106.80,268.07 111.00,268.07" fill="#348ABD"/><polygon points="117.59,271.97 115.49,268.07 119.69,268.07" fill="#348ABD"/>
<polyline points="39.41,281.12 48.10,279.03 56.78,274.82 65.47,273.32 74.16,272.80 82.84,275.43 91.53,278.05 100.22,275.80 108.90,279.62 117.59,279.03" fill="none" stroke="#FFD000" stroke-width="1.45" stroke-linejoin="round"/>
<polygon points="39.41,279.18 37.31,283.07 41.51,283.07" fill="#FFD000"/><polygon points="48.10,277.08 46.00,280.98 50.20,280.98" fill="#FFD000"/><polygon points="56.78,272.88 54.68,276.77 58.88,276.77" fill="#FFD000"/><polygon points="65.47,271.38 63.37,275.27 67.57,275.27" fill="#FFD000"/><polygon points="74.16,270.85 72.06,274.75 76.26,274.75" fill="#FFD000"/><polygon points="82.84,273.48 80.74,277.38 84.94,277.38" fill="#FFD000"/><polygon points="91.53,276.10 89.43,280.00 93.63,280.00" fill="#FFD000"/><polygon points="100.22,273.85 98.12,277.75 102.32,277.75" fill="#FFD000"/><polygon points="108.90,277.68 106.80,281.57 111.00,281.57" fill="#FFD000"/><polygon points="117.59,277.08 115.49,280.98 119.69,280.98" fill="#FFD000"/>
<polyline points="39.41,252.78 48.10,246.85 56.78,244.75 65.47,242.28 74.16,241.82 82.84,243.70 91.53,242.80 100.22,241.82 108.90,242.28 117.59,242.80" fill="none" stroke="#1DC81D" stroke-width="1.45" stroke-linejoin="round" stroke-dasharray="3.1,1.5"/>
<polygon points="39.41,254.72 37.31,250.83 41.51,250.83" fill="#1DC81D"/><polygon points="48.10,248.80 46.00,244.90 50.20,244.90" fill="#1DC81D"/><polygon points="56.78,246.70 54.68,242.80 58.88,242.80" fill="#1DC81D"/><polygon points="65.47,244.22 63.37,240.33 67.57,240.33" fill="#1DC81D"/><polygon points="74.16,243.77 72.06,239.88 76.26,239.88" fill="#1DC81D"/><polygon points="82.84,245.65 80.74,241.75 84.94,241.75" fill="#1DC81D"/><polygon points="91.53,244.75 89.43,240.85 93.63,240.85" fill="#1DC81D"/><polygon points="100.22,243.77 98.12,239.88 102.32,239.88" fill="#1DC81D"/><polygon points="108.90,244.22 106.80,240.33 111.00,240.33" fill="#1DC81D"/><polygon points="117.59,244.75 115.49,240.85 119.69,240.85" fill="#1DC81D"/>
<rect x="35.50" y="236.00" width="86.00" height="75.80" fill="none" stroke="#505050" stroke-width="1.3"/>
<text id="lxt201" x="39.409" y="326.400" font-size="10" text-anchor="middle" textLength="6.400" lengthAdjust="spacingAndGlyphs">1</text>
<text id="lxt203" x="56.783" y="326.400" font-size="10" text-anchor="middle" textLength="6.400" lengthAdjust="spacingAndGlyphs">3</text>
<text id="lxt205" x="74.157" y="326.400" font-size="10" text-anchor="middle" textLength="6.400" lengthAdjust="spacingAndGlyphs">5</text>
<text id="lxt207" x="91.530" y="326.400" font-size="10" text-anchor="middle" textLength="6.400" lengthAdjust="spacingAndGlyphs">7</text>
<text id="lxt209" x="108.904" y="326.400" font-size="10" text-anchor="middle" textLength="6.400" lengthAdjust="spacingAndGlyphs">9</text>
<text id="lyt20" x="29.100" y="315.400" font-size="10" text-anchor="end" textLength="15.700" lengthAdjust="spacingAndGlyphs">0.0</text>
<text id="lyt21" x="29.100" y="300.400" font-size="10" text-anchor="end" textLength="15.700" lengthAdjust="spacingAndGlyphs">0.2</text>
<text id="lyt22" x="29.100" y="285.400" font-size="10" text-anchor="end" textLength="15.700" lengthAdjust="spacingAndGlyphs">0.4</text>
<text id="lyt23" x="29.100" y="270.400" font-size="10" text-anchor="end" textLength="15.700" lengthAdjust="spacingAndGlyphs">0.6</text>
<text id="lyt24" x="29.100" y="255.400" font-size="10" text-anchor="end" textLength="15.700" lengthAdjust="spacingAndGlyphs">0.8</text>
<text id="lyt25" x="29.100" y="240.400" font-size="10" text-anchor="end" textLength="15.700" lengthAdjust="spacingAndGlyphs">1.0</text>
<line x1="129.70" y1="304.30" x2="215.70" y2="304.30" stroke="#f4f4f4" stroke-width="0.8"/><line x1="129.70" y1="296.80" x2="215.70" y2="296.80" stroke="#eaeaea" stroke-width="0.9"/><line x1="129.70" y1="289.30" x2="215.70" y2="289.30" stroke="#f4f4f4" stroke-width="0.8"/><line x1="129.70" y1="281.80" x2="215.70" y2="281.80" stroke="#eaeaea" stroke-width="0.9"/><line x1="129.70" y1="274.30" x2="215.70" y2="274.30" stroke="#f4f4f4" stroke-width="0.8"/><line x1="129.70" y1="266.80" x2="215.70" y2="266.80" stroke="#eaeaea" stroke-width="0.9"/><line x1="129.70" y1="259.30" x2="215.70" y2="259.30" stroke="#f4f4f4" stroke-width="0.8"/><line x1="129.70" y1="251.80" x2="215.70" y2="251.80" stroke="#eaeaea" stroke-width="0.9"/><line x1="129.70" y1="244.30" x2="215.70" y2="244.30" stroke="#f4f4f4" stroke-width="0.8"/><line x1="129.70" y1="236.80" x2="215.70" y2="236.80" stroke="#eaeaea" stroke-width="0.9"/><line x1="133.61" y1="236.00" x2="133.61" y2="311.80" stroke="#eaeaea" stroke-width="0.9"/><line x1="150.98" y1="236.00" x2="150.98" y2="311.80" stroke="#eaeaea" stroke-width="0.9"/><line x1="168.36" y1="236.00" x2="168.36" y2="311.80" stroke="#eaeaea" stroke-width="0.9"/><line x1="185.73" y1="236.00" x2="185.73" y2="311.80" stroke="#eaeaea" stroke-width="0.9"/><line x1="203.10" y1="236.00" x2="203.10" y2="311.80" stroke="#eaeaea" stroke-width="0.9"/>
<polyline points="133.61,245.43 142.30,251.05 150.98,254.43 159.67,258.62 168.36,259.08 177.04,263.28 185.73,263.88 194.42,268.53 203.10,270.02 211.79,271.68" fill="none" stroke="#E24A33" stroke-width="1.45" stroke-linejoin="round"/>
<polygon points="133.61,243.48 131.51,247.38 135.71,247.38" fill="#E24A33"/><polygon points="142.30,249.10 140.20,253.00 144.40,253.00" fill="#E24A33"/><polygon points="150.98,252.48 148.88,256.38 153.08,256.38" fill="#E24A33"/><polygon points="159.67,256.68 157.57,260.57 161.77,260.57" fill="#E24A33"/><polygon points="168.36,257.13 166.26,261.03 170.46,261.03" fill="#E24A33"/><polygon points="177.04,261.33 174.94,265.23 179.14,265.23" fill="#E24A33"/><polygon points="185.73,261.93 183.63,265.82 187.83,265.82" fill="#E24A33"/><polygon points="194.42,266.58 192.32,270.48 196.52,270.48" fill="#E24A33"/><polygon points="203.10,268.07 201.00,271.97 205.20,271.97" fill="#E24A33"/><polygon points="211.79,269.73 209.69,273.62 213.89,273.62" fill="#E24A33"/>
<polyline points="133.61,241.30 142.30,243.93 150.98,246.03 159.67,248.58 168.36,249.18 177.04,251.80 185.73,252.78 194.42,254.43 203.10,255.93 211.79,255.93" fill="none" stroke="#348ABD" stroke-width="1.45" stroke-linejoin="round" stroke-dasharray="3.1,1.5"/>
<polygon points="133.61,243.25 131.51,239.35 135.71,239.35" fill="#348ABD"/><polygon points="142.30,245.88 140.20,241.98 144.40,241.98" fill="#348ABD"/><polygon points="150.98,247.97 148.88,244.08 153.08,244.08" fill="#348ABD"/><polygon points="159.67,250.53 157.57,246.63 161.77,246.63" fill="#348ABD"/><polygon points="168.36,251.12 166.26,247.23 170.46,247.23" fill="#348ABD"/><polygon points="177.04,253.75 174.94,249.85 179.14,249.85" fill="#348ABD"/><polygon points="185.73,254.72 183.63,250.83 187.83,250.83" fill="#348ABD"/><polygon points="194.42,256.38 192.32,252.48 196.52,252.48" fill="#348ABD"/><polygon points="203.10,257.88 201.00,253.98 205.20,253.98" fill="#348ABD"/><polygon points="211.79,257.88 209.69,253.98 213.89,253.98" fill="#348ABD"/>
<polyline points="133.61,276.32 142.30,273.32 150.98,270.62 159.67,270.02 168.36,264.93 177.04,267.03 185.73,268.53 194.42,270.62 203.10,271.23 211.79,270.02" fill="none" stroke="#FFD000" stroke-width="1.45" stroke-linejoin="round"/>
<polygon points="133.61,274.38 131.51,278.27 135.71,278.27" fill="#FFD000"/><polygon points="142.30,271.38 140.20,275.27 144.40,275.27" fill="#FFD000"/><polygon points="150.98,268.68 148.88,272.57 153.08,272.57" fill="#FFD000"/><polygon points="159.67,268.07 157.57,271.97 161.77,271.97" fill="#FFD000"/><polygon points="168.36,262.98 166.26,266.88 170.46,266.88" fill="#FFD000"/><polygon points="177.04,265.08 174.94,268.98 179.14,268.98" fill="#FFD000"/><polygon points="185.73,266.58 183.63,270.48 187.83,270.48" fill="#FFD000"/><polygon points="194.42,268.68 192.32,272.57 196.52,272.57" fill="#FFD000"/><polygon points="203.10,269.28 201.00,273.18 205.20,273.18" fill="#FFD000"/><polygon points="211.79,268.07 209.69,271.97 213.89,271.97" fill="#FFD000"/>
<polyline points="133.61,243.93 142.30,243.32 150.98,241.60 159.67,242.80 168.36,241.30 177.04,242.28 185.73,242.80 194.42,242.28 203.10,243.32 211.79,243.93" fill="none" stroke="#1DC81D" stroke-width="1.45" stroke-linejoin="round" stroke-dasharray="3.1,1.5"/>
<polygon points="133.61,245.88 131.51,241.98 135.71,241.98" fill="#1DC81D"/><polygon points="142.30,245.27 140.20,241.38 144.40,241.38" fill="#1DC81D"/><polygon points="150.98,243.55 148.88,239.65 153.08,239.65" fill="#1DC81D"/><polygon points="159.67,244.75 157.57,240.85 161.77,240.85" fill="#1DC81D"/><polygon points="168.36,243.25 166.26,239.35 170.46,239.35" fill="#1DC81D"/><polygon points="177.04,244.22 174.94,240.33 179.14,240.33" fill="#1DC81D"/><polygon points="185.73,244.75 183.63,240.85 187.83,240.85" fill="#1DC81D"/><polygon points="194.42,244.22 192.32,240.33 196.52,240.33" fill="#1DC81D"/><polygon points="203.10,245.27 201.00,241.38 205.20,241.38" fill="#1DC81D"/><polygon points="211.79,245.88 209.69,241.98 213.89,241.98" fill="#1DC81D"/>
<rect x="129.70" y="236.00" width="86.00" height="75.80" fill="none" stroke="#505050" stroke-width="1.3"/>
<text id="lxt211" x="133.609" y="326.400" font-size="10" text-anchor="middle" textLength="6.400" lengthAdjust="spacingAndGlyphs">1</text>
<text id="lxt213" x="150.983" y="326.400" font-size="10" text-anchor="middle" textLength="6.400" lengthAdjust="spacingAndGlyphs">3</text>
<text id="lxt215" x="168.357" y="326.400" font-size="10" text-anchor="middle" textLength="6.400" lengthAdjust="spacingAndGlyphs">5</text>
<text id="lxt217" x="185.730" y="326.400" font-size="10" text-anchor="middle" textLength="6.400" lengthAdjust="spacingAndGlyphs">7</text>
<text id="lxt219" x="203.104" y="326.400" font-size="10" text-anchor="middle" textLength="6.400" lengthAdjust="spacingAndGlyphs">9</text>
<line x1="223.70" y1="304.30" x2="309.70" y2="304.30" stroke="#f4f4f4" stroke-width="0.8"/><line x1="223.70" y1="296.80" x2="309.70" y2="296.80" stroke="#eaeaea" stroke-width="0.9"/><line x1="223.70" y1="289.30" x2="309.70" y2="289.30" stroke="#f4f4f4" stroke-width="0.8"/><line x1="223.70" y1="281.80" x2="309.70" y2="281.80" stroke="#eaeaea" stroke-width="0.9"/><line x1="223.70" y1="274.30" x2="309.70" y2="274.30" stroke="#f4f4f4" stroke-width="0.8"/><line x1="223.70" y1="266.80" x2="309.70" y2="266.80" stroke="#eaeaea" stroke-width="0.9"/><line x1="223.70" y1="259.30" x2="309.70" y2="259.30" stroke="#f4f4f4" stroke-width="0.8"/><line x1="223.70" y1="251.80" x2="309.70" y2="251.80" stroke="#eaeaea" stroke-width="0.9"/><line x1="223.70" y1="244.30" x2="309.70" y2="244.30" stroke="#f4f4f4" stroke-width="0.8"/><line x1="223.70" y1="236.80" x2="309.70" y2="236.80" stroke="#eaeaea" stroke-width="0.9"/><line x1="227.61" y1="236.00" x2="227.61" y2="311.80" stroke="#eaeaea" stroke-width="0.9"/><line x1="244.98" y1="236.00" x2="244.98" y2="311.80" stroke="#eaeaea" stroke-width="0.9"/><line x1="262.36" y1="236.00" x2="262.36" y2="311.80" stroke="#eaeaea" stroke-width="0.9"/><line x1="279.73" y1="236.00" x2="279.73" y2="311.80" stroke="#eaeaea" stroke-width="0.9"/><line x1="297.10" y1="236.00" x2="297.10" y2="311.80" stroke="#eaeaea" stroke-width="0.9"/>
<polyline points="227.61,239.80 236.30,243.93 244.98,245.43 253.67,247.53 262.36,248.95 271.04,249.55 279.73,250.30 288.42,251.80 297.10,253.30 305.79,253.83" fill="none" stroke="#E24A33" stroke-width="1.45" stroke-linejoin="round"/>
<polygon points="227.61,237.85 225.51,241.75 229.71,241.75" fill="#E24A33"/><polygon points="236.30,241.98 234.20,245.88 238.40,245.88" fill="#E24A33"/><polygon points="244.98,243.48 242.88,247.38 247.08,247.38" fill="#E24A33"/><polygon points="253.67,245.58 251.57,249.47 255.77,249.47" fill="#E24A33"/><polygon points="262.36,247.00 260.26,250.90 264.46,250.90" fill="#E24A33"/><polygon points="271.04,247.60 268.94,251.50 273.14,251.50" fill="#E24A33"/><polygon points="279.73,248.35 277.63,252.25 281.83,252.25" fill="#E24A33"/><polygon points="288.42,249.85 286.32,253.75 290.52,253.75" fill="#E24A33"/><polygon points="297.10,251.35 295.00,255.25 299.20,255.25" fill="#E24A33"/><polygon points="305.79,251.88 303.69,255.78 307.89,255.78" fill="#E24A33"/>
<polyline points="227.61,238.08 236.30,239.05 244.98,240.55 253.67,242.28 262.36,243.32 271.04,242.80 279.73,243.93 288.42,244.75 297.10,245.43 305.79,246.55" fill="none" stroke="#348ABD" stroke-width="1.45" stroke-linejoin="round" stroke-dasharray="3.1,1.5"/>
<polygon points="227.61,240.03 225.51,236.13 229.71,236.13" fill="#348ABD"/><polygon points="236.30,241.00 234.20,237.10 238.40,237.10" fill="#348ABD"/><polygon points="244.98,242.50 242.88,238.60 247.08,238.60" fill="#348ABD"/><polygon points="253.67,244.22 251.57,240.33 255.77,240.33" fill="#348ABD"/><polygon points="262.36,245.27 260.26,241.38 264.46,241.38" fill="#348ABD"/><polygon points="271.04,244.75 268.94,240.85 273.14,240.85" fill="#348ABD"/><polygon points="279.73,245.88 277.63,241.98 281.83,241.98" fill="#348ABD"/><polygon points="288.42,246.70 286.32,242.80 290.52,242.80" fill="#348ABD"/><polygon points="297.10,247.38 295.00,243.48 299.20,243.48" fill="#348ABD"/><polygon points="305.79,248.50 303.69,244.60 307.89,244.60" fill="#348ABD"/>
<polyline points="227.61,273.32 236.30,269.12 244.98,266.43 253.67,265.82 262.36,265.82 271.04,265.30 279.73,264.93 288.42,266.43 297.10,267.03 305.79,267.93" fill="none" stroke="#FFD000" stroke-width="1.45" stroke-linejoin="round"/>
<polygon points="227.61,271.38 225.51,275.27 229.71,275.27" fill="#FFD000"/><polygon points="236.30,267.18 234.20,271.07 238.40,271.07" fill="#FFD000"/><polygon points="244.98,264.48 242.88,268.38 247.08,268.38" fill="#FFD000"/><polygon points="253.67,263.88 251.57,267.77 255.77,267.77" fill="#FFD000"/><polygon points="262.36,263.88 260.26,267.77 264.46,267.77" fill="#FFD000"/><polygon points="271.04,263.35 268.94,267.25 273.14,267.25" fill="#FFD000"/><polygon points="279.73,262.98 277.63,266.88 281.83,266.88" fill="#FFD000"/><polygon points="288.42,264.48 286.32,268.38 290.52,268.38" fill="#FFD000"/><polygon points="297.10,265.08 295.00,268.98 299.20,268.98" fill="#FFD000"/><polygon points="305.79,265.98 303.69,269.88 307.89,269.88" fill="#FFD000"/>
<polyline points="227.61,239.80 236.30,240.55 244.98,241.30 253.67,242.80 262.36,242.80 271.04,242.28 279.73,243.32 288.42,243.93 297.10,243.93 305.79,244.30" fill="none" stroke="#1DC81D" stroke-width="1.45" stroke-linejoin="round" stroke-dasharray="3.1,1.5"/>
<polygon points="227.61,241.75 225.51,237.85 229.71,237.85" fill="#1DC81D"/><polygon points="236.30,242.50 234.20,238.60 238.40,238.60" fill="#1DC81D"/><polygon points="244.98,243.25 242.88,239.35 247.08,239.35" fill="#1DC81D"/><polygon points="253.67,244.75 251.57,240.85 255.77,240.85" fill="#1DC81D"/><polygon points="262.36,244.75 260.26,240.85 264.46,240.85" fill="#1DC81D"/><polygon points="271.04,244.22 268.94,240.33 273.14,240.33" fill="#1DC81D"/><polygon points="279.73,245.27 277.63,241.38 281.83,241.38" fill="#1DC81D"/><polygon points="288.42,245.88 286.32,241.98 290.52,241.98" fill="#1DC81D"/><polygon points="297.10,245.88 295.00,241.98 299.20,241.98" fill="#1DC81D"/><polygon points="305.79,246.25 303.69,242.35 307.89,242.35" fill="#1DC81D"/>
<rect x="223.70" y="236.00" width="86.00" height="75.80" fill="none" stroke="#505050" stroke-width="1.3"/>
<text id="lxt221" x="227.609" y="326.400" font-size="10" text-anchor="middle" textLength="6.400" lengthAdjust="spacingAndGlyphs">1</text>
<text id="lxt223" x="244.983" y="326.400" font-size="10" text-anchor="middle" textLength="6.400" lengthAdjust="spacingAndGlyphs">3</text>
<text id="lxt225" x="262.357" y="326.400" font-size="10" text-anchor="middle" textLength="6.400" lengthAdjust="spacingAndGlyphs">5</text>
<text id="lxt227" x="279.730" y="326.400" font-size="10" text-anchor="middle" textLength="6.400" lengthAdjust="spacingAndGlyphs">7</text>
<text id="lxt229" x="297.104" y="326.400" font-size="10" text-anchor="middle" textLength="6.400" lengthAdjust="spacingAndGlyphs">9</text>
<text id="title0" x="58.000" y="24.600" font-size="10.8" text-anchor="start" textLength="39.829" lengthAdjust="spacingAndGlyphs">T = 500</text>
<text id="title1" x="149.366" y="24.600" font-size="10.8" text-anchor="start" textLength="47.737" lengthAdjust="spacingAndGlyphs">T = 2000</text>
<text id="title2" x="242.795" y="24.600" font-size="10.8" text-anchor="start" textLength="47.841" lengthAdjust="spacingAndGlyphs">T = 8000</text>
<text id="sup" x="127.369" y="9.200" font-size="10.8" text-anchor="start" textLength="73.640" lengthAdjust="spacingAndGlyphs">n = 5,τ<tspan font-size="7.8" dy="2">max</tspan><tspan dy="-2"> = 5</tspan></text>
<text id="ylF1L" transform="translate(9.400,88.000) rotate(-90)" font-size="11.0" text-anchor="start" textLength="43.720" lengthAdjust="spacingAndGlyphs"><tspan font-style="italic">F</tspan><tspan font-size="7.5" dy="2">1</tspan><tspan dy="-2"> Score</tspan></text>
<text id="ylPrL" transform="translate(9.200,193.035) rotate(-90)" font-size="11.0" text-anchor="start" textLength="46.421" lengthAdjust="spacingAndGlyphs">Precision</text>
<text id="ylReL" transform="translate(9.200,289.018) rotate(-90)" font-size="11.0" text-anchor="start" textLength="31.148" lengthAdjust="spacingAndGlyphs">Recall</text>
<text id="omega" x="152.000" y="335.600" font-size="10.8" text-anchor="start" textLength="23.604" lengthAdjust="spacingAndGlyphs">ω<tspan font-size="8" dy="2.3">max</tspan></text>
<line x1="360.40" y1="134.23" x2="439.80" y2="134.23" stroke="#f4f4f4" stroke-width="0.8"/><line x1="360.40" y1="122.56" x2="439.80" y2="122.56" stroke="#eaeaea" stroke-width="0.9"/><line x1="360.40" y1="110.89" x2="439.80" y2="110.89" stroke="#f4f4f4" stroke-width="0.8"/><line x1="360.40" y1="99.22" x2="439.80" y2="99.22" stroke="#eaeaea" stroke-width="0.9"/><line x1="360.40" y1="87.55" x2="439.80" y2="87.55" stroke="#f4f4f4" stroke-width="0.8"/><line x1="360.40" y1="75.88" x2="439.80" y2="75.88" stroke="#eaeaea" stroke-width="0.9"/><line x1="360.40" y1="64.21" x2="439.80" y2="64.21" stroke="#f4f4f4" stroke-width="0.8"/><line x1="360.40" y1="52.54" x2="439.80" y2="52.54" stroke="#eaeaea" stroke-width="0.9"/><line x1="360.40" y1="40.87" x2="439.80" y2="40.87" stroke="#f4f4f4" stroke-width="0.8"/><line x1="360.40" y1="29.20" x2="439.80" y2="29.20" stroke="#eaeaea" stroke-width="0.9"/><line x1="364.01" y1="28.30" x2="364.01" y2="145.90" stroke="#eaeaea" stroke-width="0.9"/><line x1="369.16" y1="28.30" x2="369.16" y2="145.90" stroke="#eaeaea" stroke-width="0.9"/><line x1="384.63" y1="28.30" x2="384.63" y2="145.90" stroke="#eaeaea" stroke-width="0.9"/><line x1="410.41" y1="28.30" x2="410.41" y2="145.90" stroke="#eaeaea" stroke-width="0.9"/><line x1="436.19" y1="28.30" x2="436.19" y2="145.90" stroke="#eaeaea" stroke-width="0.9"/>
<polyline points="364.01,62.46 369.16,63.74 384.63,64.68 410.41,76.70 436.19,96.07" fill="none" stroke="#E24A33" stroke-width="1.45" stroke-linejoin="round"/>
<polygon points="364.01,59.16 366.31,62.46 364.01,65.76 361.71,62.46" fill="#E24A33"/><polygon points="369.16,60.44 371.46,63.74 369.16,67.04 366.86,63.74" fill="#E24A33"/><polygon points="384.63,61.38 386.93,64.68 384.63,67.98 382.33,64.68" fill="#E24A33"/><polygon points="410.41,73.40 412.71,76.70 410.41,80.00 408.11,76.70" fill="#E24A33"/><polygon points="436.19,92.77 438.49,96.07 436.19,99.37 433.89,96.07" fill="#E24A33"/>
<polyline points="364.01,60.48 369.16,73.78 384.63,101.32 410.41,120.81 436.19,127.23" fill="none" stroke="#348ABD" stroke-width="1.45" stroke-linejoin="round"/>
<polygon points="364.01,57.18 366.31,60.48 364.01,63.78 361.71,60.48" fill="#348ABD"/><polygon points="369.16,70.48 371.46,73.78 369.16,77.08 366.86,73.78" fill="#348ABD"/><polygon points="384.63,98.02 386.93,101.32 384.63,104.62 382.33,101.32" fill="#348ABD"/><polygon points="410.41,117.51 412.71,120.81 410.41,124.11 408.11,120.81" fill="#348ABD"/><polygon points="436.19,123.93 438.49,127.23 436.19,130.53 433.89,127.23" fill="#348ABD"/>
<polyline points="364.01,82.30 369.16,92.22 384.63,113.22 410.41,126.29 436.19,130.73" fill="none" stroke="#FFD000" stroke-width="1.45" stroke-linejoin="round"/>
<polygon points="364.01,79.00 366.31,82.30 364.01,85.60 361.71,82.30" fill="#FFD000"/><polygon points="369.16,88.92 371.46,92.22 369.16,95.52 366.86,92.22" fill="#FFD000"/><polygon points="384.63,109.92 386.93,113.22 384.63,116.52 382.33,113.22" fill="#FFD000"/><polygon points="410.41,122.99 412.71,126.29 410.41,129.59 408.11,126.29" fill="#FFD000"/><polygon points="436.19,127.43 438.49,130.73 436.19,134.03 433.89,130.73" fill="#FFD000"/>
<polyline points="364.01,73.55 369.16,86.85 384.63,112.52 410.41,127.23 436.19,131.31" fill="none" stroke="#1DC81D" stroke-width="1.45" stroke-linejoin="round"/>
<polygon points="364.01,70.25 366.31,73.55 364.01,76.85 361.71,73.55" fill="#1DC81D"/><polygon points="369.16,83.55 371.46,86.85 369.16,90.15 366.86,86.85" fill="#1DC81D"/><polygon points="384.63,109.22 386.93,112.52 384.63,115.82 382.33,112.52" fill="#1DC81D"/><polygon points="410.41,123.93 412.71,127.23 410.41,130.53 408.11,127.23" fill="#1DC81D"/><polygon points="436.19,128.01 438.49,131.31 436.19,134.61 433.89,131.31" fill="#1DC81D"/>
<rect x="360.40" y="28.30" width="79.40" height="117.60" fill="none" stroke="#505050" stroke-width="1.3"/>
<text id="rxt001" x="364.009" y="160.500" font-size="10" text-anchor="middle" textLength="6.400" lengthAdjust="spacingAndGlyphs">1</text>
<text id="rxt002" x="369.165" y="160.500" font-size="10" text-anchor="middle" textLength="6.400" lengthAdjust="spacingAndGlyphs">2</text>
<text id="rxt005" x="384.632" y="160.500" font-size="10" text-anchor="middle" textLength="6.400" lengthAdjust="spacingAndGlyphs">5</text>
<text id="rxt0010" x="410.412" y="160.500" font-size="10" text-anchor="middle" textLength="12.700" lengthAdjust="spacingAndGlyphs">10</text>
<text id="rxt0015" x="436.191" y="160.500" font-size="10" text-anchor="middle" textLength="12.700" lengthAdjust="spacingAndGlyphs">15</text>
<text id="ryt00" x="354.000" y="149.500" font-size="10" text-anchor="end" textLength="15.700" lengthAdjust="spacingAndGlyphs">0.0</text>
<text id="ryt01" x="354.000" y="126.160" font-size="10" text-anchor="end" textLength="15.700" lengthAdjust="spacingAndGlyphs">0.2</text>
<text id="ryt02" x="354.000" y="102.820" font-size="10" text-anchor="end" textLength="15.700" lengthAdjust="spacingAndGlyphs">0.4</text>
<text id="ryt03" x="354.000" y="79.480" font-size="10" text-anchor="end" textLength="15.700" lengthAdjust="spacingAndGlyphs">0.6</text>
<text id="ryt04" x="354.000" y="56.140" font-size="10" text-anchor="end" textLength="15.700" lengthAdjust="spacingAndGlyphs">0.8</text>
<text id="ryt05" x="354.000" y="32.800" font-size="10" text-anchor="end" textLength="15.700" lengthAdjust="spacingAndGlyphs">1.0</text>
<line x1="458.60" y1="134.23" x2="538.00" y2="134.23" stroke="#f4f4f4" stroke-width="0.8"/><line x1="458.60" y1="122.56" x2="538.00" y2="122.56" stroke="#eaeaea" stroke-width="0.9"/><line x1="458.60" y1="110.89" x2="538.00" y2="110.89" stroke="#f4f4f4" stroke-width="0.8"/><line x1="458.60" y1="99.22" x2="538.00" y2="99.22" stroke="#eaeaea" stroke-width="0.9"/><line x1="458.60" y1="87.55" x2="538.00" y2="87.55" stroke="#f4f4f4" stroke-width="0.8"/><line x1="458.60" y1="75.88" x2="538.00" y2="75.88" stroke="#eaeaea" stroke-width="0.9"/><line x1="458.60" y1="64.21" x2="538.00" y2="64.21" stroke="#f4f4f4" stroke-width="0.8"/><line x1="458.60" y1="52.54" x2="538.00" y2="52.54" stroke="#eaeaea" stroke-width="0.9"/><line x1="458.60" y1="40.87" x2="538.00" y2="40.87" stroke="#f4f4f4" stroke-width="0.8"/><line x1="458.60" y1="29.20" x2="538.00" y2="29.20" stroke="#eaeaea" stroke-width="0.9"/><line x1="462.21" y1="28.30" x2="462.21" y2="145.90" stroke="#eaeaea" stroke-width="0.9"/><line x1="467.36" y1="28.30" x2="467.36" y2="145.90" stroke="#eaeaea" stroke-width="0.9"/><line x1="482.83" y1="28.30" x2="482.83" y2="145.90" stroke="#eaeaea" stroke-width="0.9"/><line x1="508.61" y1="28.30" x2="508.61" y2="145.90" stroke="#eaeaea" stroke-width="0.9"/><line x1="534.39" y1="28.30" x2="534.39" y2="145.90" stroke="#eaeaea" stroke-width="0.9"/>
<polyline points="462.21,63.16 467.36,62.11 482.83,58.84 508.61,73.08 534.39,93.39" fill="none" stroke="#E24A33" stroke-width="1.45" stroke-linejoin="round"/>
<polygon points="462.21,59.86 464.51,63.16 462.21,66.46 459.91,63.16" fill="#E24A33"/><polygon points="467.36,58.81 469.66,62.11 467.36,65.41 465.06,62.11" fill="#E24A33"/><polygon points="482.83,55.54 485.13,58.84 482.83,62.14 480.53,58.84" fill="#E24A33"/><polygon points="508.61,69.78 510.91,73.08 508.61,76.38 506.31,73.08" fill="#E24A33"/><polygon points="534.39,90.09 536.69,93.39 534.39,96.69 532.09,93.39" fill="#E24A33"/>
<polyline points="462.21,71.33 467.36,87.78 482.83,115.56 508.61,130.73 534.39,134.58" fill="none" stroke="#348ABD" stroke-width="1.45" stroke-linejoin="round"/>
<polygon points="462.21,68.03 464.51,71.33 462.21,74.63 459.91,71.33" fill="#348ABD"/><polygon points="467.36,84.48 469.66,87.78 467.36,91.08 465.06,87.78" fill="#348ABD"/><polygon points="482.83,112.26 485.13,115.56 482.83,118.86 480.53,115.56" fill="#348ABD"/><polygon points="508.61,127.43 510.91,130.73 508.61,134.03 506.31,130.73" fill="#348ABD"/><polygon points="534.39,131.28 536.69,134.58 534.39,137.88 532.09,134.58" fill="#348ABD"/>
<polyline points="462.21,90.12 467.36,102.37 482.83,124.08 508.61,134.58 534.39,137.26" fill="none" stroke="#FFD000" stroke-width="1.45" stroke-linejoin="round"/>
<polygon points="462.21,86.82 464.51,90.12 462.21,93.42 459.91,90.12" fill="#FFD000"/><polygon points="467.36,99.07 469.66,102.37 467.36,105.67 465.06,102.37" fill="#FFD000"/><polygon points="482.83,120.78 485.13,124.08 482.83,127.38 480.53,124.08" fill="#FFD000"/><polygon points="508.61,131.28 510.91,134.58 508.61,137.88 506.31,134.58" fill="#FFD000"/><polygon points="534.39,133.96 536.69,137.26 534.39,140.56 532.09,137.26" fill="#FFD000"/>
<polyline points="462.21,90.12 467.36,105.06 482.83,126.41 508.61,136.21 534.39,138.55" fill="none" stroke="#1DC81D" stroke-width="1.45" stroke-linejoin="round"/>
<polygon points="462.21,86.82 464.51,90.12 462.21,93.42 459.91,90.12" fill="#1DC81D"/><polygon points="467.36,101.76 469.66,105.06 467.36,108.36 465.06,105.06" fill="#1DC81D"/><polygon points="482.83,123.11 485.13,126.41 482.83,129.71 480.53,126.41" fill="#1DC81D"/><polygon points="508.61,132.91 510.91,136.21 508.61,139.51 506.31,136.21" fill="#1DC81D"/><polygon points="534.39,135.25 536.69,138.55 534.39,141.85 532.09,138.55" fill="#1DC81D"/>
<rect x="458.60" y="28.30" width="79.40" height="117.60" fill="none" stroke="#505050" stroke-width="1.3"/>
<text id="rxt011" x="462.209" y="160.500" font-size="10" text-anchor="middle" textLength="6.400" lengthAdjust="spacingAndGlyphs">1</text>
<text id="rxt012" x="467.365" y="160.500" font-size="10" text-anchor="middle" textLength="6.400" lengthAdjust="spacingAndGlyphs">2</text>
<text id="rxt015" x="482.832" y="160.500" font-size="10" text-anchor="middle" textLength="6.400" lengthAdjust="spacingAndGlyphs">5</text>
<text id="rxt0110" x="508.612" y="160.500" font-size="10" text-anchor="middle" textLength="12.700" lengthAdjust="spacingAndGlyphs">10</text>
<text id="rxt0115" x="534.391" y="160.500" font-size="10" text-anchor="middle" textLength="12.700" lengthAdjust="spacingAndGlyphs">15</text>
<line x1="556.90" y1="134.23" x2="636.30" y2="134.23" stroke="#f4f4f4" stroke-width="0.8"/><line x1="556.90" y1="122.56" x2="636.30" y2="122.56" stroke="#eaeaea" stroke-width="0.9"/><line x1="556.90" y1="110.89" x2="636.30" y2="110.89" stroke="#f4f4f4" stroke-width="0.8"/><line x1="556.90" y1="99.22" x2="636.30" y2="99.22" stroke="#eaeaea" stroke-width="0.9"/><line x1="556.90" y1="87.55" x2="636.30" y2="87.55" stroke="#f4f4f4" stroke-width="0.8"/><line x1="556.90" y1="75.88" x2="636.30" y2="75.88" stroke="#eaeaea" stroke-width="0.9"/><line x1="556.90" y1="64.21" x2="636.30" y2="64.21" stroke="#f4f4f4" stroke-width="0.8"/><line x1="556.90" y1="52.54" x2="636.30" y2="52.54" stroke="#eaeaea" stroke-width="0.9"/><line x1="556.90" y1="40.87" x2="636.30" y2="40.87" stroke="#f4f4f4" stroke-width="0.8"/><line x1="556.90" y1="29.20" x2="636.30" y2="29.20" stroke="#eaeaea" stroke-width="0.9"/><line x1="560.51" y1="28.30" x2="560.51" y2="145.90" stroke="#eaeaea" stroke-width="0.9"/><line x1="565.66" y1="28.30" x2="565.66" y2="145.90" stroke="#eaeaea" stroke-width="0.9"/><line x1="581.13" y1="28.30" x2="581.13" y2="145.90" stroke="#eaeaea" stroke-width="0.9"/><line x1="606.91" y1="28.30" x2="606.91" y2="145.90" stroke="#eaeaea" stroke-width="0.9"/><line x1="632.69" y1="28.30" x2="632.69" y2="145.90" stroke="#eaeaea" stroke-width="0.9"/>
<polyline points="560.51,58.26 565.66,62.81 581.13,66.43 606.91,72.73 632.69,83.58" fill="none" stroke="#E24A33" stroke-width="1.45" stroke-linejoin="round"/>
<polygon points="560.51,54.96 562.81,58.26 560.51,61.56 558.21,58.26" fill="#E24A33"/><polygon points="565.66,59.51 567.96,62.81 565.66,66.11 563.36,62.81" fill="#E24A33"/><polygon points="581.13,63.13 583.43,66.43 581.13,69.73 578.83,66.43" fill="#E24A33"/><polygon points="606.91,69.43 609.21,72.73 606.91,76.03 604.61,72.73" fill="#E24A33"/><polygon points="632.69,80.28 634.99,83.58 632.69,86.88 630.39,83.58" fill="#E24A33"/>
<polyline points="560.51,45.65 565.66,46.71 581.13,52.54 606.91,50.56 632.69,49.97" fill="none" stroke="#348ABD" stroke-width="1.45" stroke-linejoin="round"/>
<polygon points="560.51,42.35 562.81,45.65 560.51,48.95 558.21,45.65" fill="#348ABD"/><polygon points="565.66,43.41 567.96,46.71 565.66,50.01 563.36,46.71" fill="#348ABD"/><polygon points="581.13,49.24 583.43,52.54 581.13,55.84 578.83,52.54" fill="#348ABD"/><polygon points="606.91,47.26 609.21,50.56 606.91,53.86 604.61,50.56" fill="#348ABD"/><polygon points="632.69,46.67 634.99,49.97 632.69,53.27 630.39,49.97" fill="#348ABD"/>
<polyline points="560.51,67.13 565.66,71.33 581.13,77.63 606.91,75.88 632.69,73.66" fill="none" stroke="#FFD000" stroke-width="1.45" stroke-linejoin="round"/>
<polygon points="560.51,63.83 562.81,67.13 560.51,70.43 558.21,67.13" fill="#FFD000"/><polygon points="565.66,68.03 567.96,71.33 565.66,74.63 563.36,71.33" fill="#FFD000"/><polygon points="581.13,74.33 583.43,77.63 581.13,80.93 578.83,77.63" fill="#FFD000"/><polygon points="606.91,72.58 609.21,75.88 606.91,79.18 604.61,75.88" fill="#FFD000"/><polygon points="632.69,70.36 634.99,73.66 632.69,76.96 630.39,73.66" fill="#FFD000"/>
<polyline points="560.51,39.70 565.66,39.12 581.13,36.79 606.91,34.10 632.69,34.10" fill="none" stroke="#1DC81D" stroke-width="1.45" stroke-linejoin="round"/>
<polygon points="560.51,36.40 562.81,39.70 560.51,43.00 558.21,39.70" fill="#1DC81D"/><polygon points="565.66,35.82 567.96,39.12 565.66,42.42 563.36,39.12" fill="#1DC81D"/><polygon points="581.13,33.49 583.43,36.79 581.13,40.09 578.83,36.79" fill="#1DC81D"/><polygon points="606.91,30.80 609.21,34.10 606.91,37.40 604.61,34.10" fill="#1DC81D"/><polygon points="632.69,30.80 634.99,34.10 632.69,37.40 630.39,34.10" fill="#1DC81D"/>
<rect x="556.90" y="28.30" width="79.40" height="117.60" fill="none" stroke="#505050" stroke-width="1.3"/>
<text id="rxt021" x="560.509" y="160.500" font-size="10" text-anchor="middle" textLength="6.400" lengthAdjust="spacingAndGlyphs">1</text>
<text id="rxt022" x="565.665" y="160.500" font-size="10" text-anchor="middle" textLength="6.400" lengthAdjust="spacingAndGlyphs">2</text>
<text id="rxt025" x="581.132" y="160.500" font-size="10" text-anchor="middle" textLength="6.400" lengthAdjust="spacingAndGlyphs">5</text>
<text id="rxt0210" x="606.912" y="160.500" font-size="10" text-anchor="middle" textLength="12.700" lengthAdjust="spacingAndGlyphs">10</text>
<text id="rxt0215" x="632.691" y="160.500" font-size="10" text-anchor="middle" textLength="12.700" lengthAdjust="spacingAndGlyphs">15</text>
<text id="ylF1R0" transform="translate(334.200,108.376) rotate(-90)" font-size="11.0" text-anchor="start" textLength="42.643" lengthAdjust="spacingAndGlyphs"><tspan font-style="italic">F</tspan><tspan font-size="7.5" dy="2">1</tspan><tspan dy="-2"> Score</tspan></text>
<text id="ylPrR0" transform="translate(455.000,110.608) rotate(-90)" font-size="11.0" text-anchor="start" textLength="46.645" lengthAdjust="spacingAndGlyphs">Precision</text>
<text id="ylReR0" transform="translate(552.700,102.724) rotate(-90)" font-size="11.0" text-anchor="start" textLength="31.262" lengthAdjust="spacingAndGlyphs">Recall</text>
<line x1="360.40" y1="299.33" x2="439.80" y2="299.33" stroke="#f4f4f4" stroke-width="0.8"/><line x1="360.40" y1="287.66" x2="439.80" y2="287.66" stroke="#eaeaea" stroke-width="0.9"/><line x1="360.40" y1="275.99" x2="439.80" y2="275.99" stroke="#f4f4f4" stroke-width="0.8"/><line x1="360.40" y1="264.32" x2="439.80" y2="264.32" stroke="#eaeaea" stroke-width="0.9"/><line x1="360.40" y1="252.65" x2="439.80" y2="252.65" stroke="#f4f4f4" stroke-width="0.8"/><line x1="360.40" y1="240.98" x2="439.80" y2="240.98" stroke="#eaeaea" stroke-width="0.9"/><line x1="360.40" y1="229.31" x2="439.80" y2="229.31" stroke="#f4f4f4" stroke-width="0.8"/><line x1="360.40" y1="217.64" x2="439.80" y2="217.64" stroke="#eaeaea" stroke-width="0.9"/><line x1="360.40" y1="205.97" x2="439.80" y2="205.97" stroke="#f4f4f4" stroke-width="0.8"/><line x1="360.40" y1="194.30" x2="439.80" y2="194.30" stroke="#eaeaea" stroke-width="0.9"/><line x1="364.01" y1="193.50" x2="364.01" y2="311.00" stroke="#eaeaea" stroke-width="0.9"/><line x1="376.04" y1="193.50" x2="376.04" y2="311.00" stroke="#eaeaea" stroke-width="0.9"/><line x1="396.09" y1="193.50" x2="396.09" y2="311.00" stroke="#eaeaea" stroke-width="0.9"/><line x1="416.14" y1="193.50" x2="416.14" y2="311.00" stroke="#eaeaea" stroke-width="0.9"/><line x1="436.19" y1="193.50" x2="436.19" y2="311.00" stroke="#eaeaea" stroke-width="0.9"/>
<polyline points="364.01,231.18 376.04,229.89 396.09,229.54 416.14,227.21 436.19,232.23" fill="none" stroke="#E24A33" stroke-width="1.45" stroke-linejoin="round"/>
<polygon points="364.01,227.88 366.31,231.18 364.01,234.48 361.71,231.18" fill="#E24A33"/><polygon points="376.04,226.59 378.34,229.89 376.04,233.19 373.74,229.89" fill="#E24A33"/><polygon points="396.09,226.24 398.39,229.54 396.09,232.84 393.79,229.54" fill="#E24A33"/><polygon points="416.14,223.91 418.44,227.21 416.14,230.51 413.84,227.21" fill="#E24A33"/><polygon points="436.19,228.93 438.49,232.23 436.19,235.53 433.89,232.23" fill="#E24A33"/>
<polyline points="364.01,250.90 376.04,264.32 396.09,274.36 416.14,279.26 436.19,285.56" fill="none" stroke="#348ABD" stroke-width="1.45" stroke-linejoin="round"/>
<polygon points="364.01,247.60 366.31,250.90 364.01,254.20 361.71,250.90" fill="#348ABD"/><polygon points="376.04,261.02 378.34,264.32 376.04,267.62 373.74,264.32" fill="#348ABD"/><polygon points="396.09,271.06 398.39,274.36 396.09,277.66 393.79,274.36" fill="#348ABD"/><polygon points="416.14,275.96 418.44,279.26 416.14,282.56 413.84,279.26" fill="#348ABD"/><polygon points="436.19,282.26 438.49,285.56 436.19,288.86 433.89,285.56" fill="#348ABD"/>
<polyline points="364.01,259.54 376.04,277.27 396.09,287.66 416.14,290.58 436.19,293.73" fill="none" stroke="#FFD000" stroke-width="1.45" stroke-linejoin="round"/>
<polygon points="364.01,256.24 366.31,259.54 364.01,262.84 361.71,259.54" fill="#FFD000"/><polygon points="376.04,273.97 378.34,277.27 376.04,280.57 373.74,277.27" fill="#FFD000"/><polygon points="396.09,284.36 398.39,287.66 396.09,290.96 393.79,287.66" fill="#FFD000"/><polygon points="416.14,287.28 418.44,290.58 416.14,293.88 413.84,290.58" fill="#FFD000"/><polygon points="436.19,290.43 438.49,293.73 436.19,297.03 433.89,293.73" fill="#FFD000"/>
<polyline points="364.01,257.55 376.04,277.27 396.09,289.88 416.14,295.83 436.19,299.10" fill="none" stroke="#1DC81D" stroke-width="1.45" stroke-linejoin="round"/>
<polygon points="364.01,254.25 366.31,257.55 364.01,260.85 361.71,257.55" fill="#1DC81D"/><polygon points="376.04,273.97 378.34,277.27 376.04,280.57 373.74,277.27" fill="#1DC81D"/><polygon points="396.09,286.58 398.39,289.88 396.09,293.18 393.79,289.88" fill="#1DC81D"/><polygon points="416.14,292.53 418.44,295.83 416.14,299.13 413.84,295.83" fill="#1DC81D"/><polygon points="436.19,295.80 438.49,299.10 436.19,302.40 433.89,299.10" fill="#1DC81D"/>
<rect x="360.40" y="193.50" width="79.40" height="117.50" fill="none" stroke="#505050" stroke-width="1.3"/>
<text id="rxt102" x="364.009" y="325.600" font-size="10" text-anchor="middle" textLength="6.400" lengthAdjust="spacingAndGlyphs">2</text>
<text id="rxt105" x="376.039" y="325.600" font-size="10" text-anchor="middle" textLength="6.400" lengthAdjust="spacingAndGlyphs">5</text>
<text id="rxt1010" x="396.090" y="325.600" font-size="10" text-anchor="middle" textLength="12.700" lengthAdjust="spacingAndGlyphs">10</text>
<text id="rxt1015" x="416.140" y="325.600" font-size="10" text-anchor="middle" textLength="12.700" lengthAdjust="spacingAndGlyphs">15</text>
<text id="rxt1020" x="436.191" y="325.600" font-size="10" text-anchor="middle" textLength="12.700" lengthAdjust="spacingAndGlyphs">20</text>
<text id="ryt10" x="354.000" y="314.600" font-size="10" text-anchor="end" textLength="15.700" lengthAdjust="spacingAndGlyphs">0.0</text>
<text id="ryt11" x="354.000" y="291.260" font-size="10" text-anchor="end" textLength="15.700" lengthAdjust="spacingAndGlyphs">0.2</text>
<text id="ryt12" x="354.000" y="267.920" font-size="10" text-anchor="end" textLength="15.700" lengthAdjust="spacingAndGlyphs">0.4</text>
<text id="ryt13" x="354.000" y="244.580" font-size="10" text-anchor="end" textLength="15.700" lengthAdjust="spacingAndGlyphs">0.6</text>
<text id="ryt14" x="354.000" y="221.240" font-size="10" text-anchor="end" textLength="15.700" lengthAdjust="spacingAndGlyphs">0.8</text>
<text id="ryt15" x="354.000" y="197.900" font-size="10" text-anchor="end" textLength="15.700" lengthAdjust="spacingAndGlyphs">1.0</text>
<line x1="458.60" y1="299.33" x2="538.00" y2="299.33" stroke="#f4f4f4" stroke-width="0.8"/><line x1="458.60" y1="287.66" x2="538.00" y2="287.66" stroke="#eaeaea" stroke-width="0.9"/><line x1="458.60" y1="275.99" x2="538.00" y2="275.99" stroke="#f4f4f4" stroke-width="0.8"/><line x1="458.60" y1="264.32" x2="538.00" y2="264.32" stroke="#eaeaea" stroke-width="0.9"/><line x1="458.60" y1="252.65" x2="538.00" y2="252.65" stroke="#f4f4f4" stroke-width="0.8"/><line x1="458.60" y1="240.98" x2="538.00" y2="240.98" stroke="#eaeaea" stroke-width="0.9"/><line x1="458.60" y1="229.31" x2="538.00" y2="229.31" stroke="#f4f4f4" stroke-width="0.8"/><line x1="458.60" y1="217.64" x2="538.00" y2="217.64" stroke="#eaeaea" stroke-width="0.9"/><line x1="458.60" y1="205.97" x2="538.00" y2="205.97" stroke="#f4f4f4" stroke-width="0.8"/><line x1="458.60" y1="194.30" x2="538.00" y2="194.30" stroke="#eaeaea" stroke-width="0.9"/><line x1="462.21" y1="193.50" x2="462.21" y2="311.00" stroke="#eaeaea" stroke-width="0.9"/><line x1="474.24" y1="193.50" x2="474.24" y2="311.00" stroke="#eaeaea" stroke-width="0.9"/><line x1="494.29" y1="193.50" x2="494.29" y2="311.00" stroke="#eaeaea" stroke-width="0.9"/><line x1="514.34" y1="193.50" x2="514.34" y2="311.00" stroke="#eaeaea" stroke-width="0.9"/><line x1="534.39" y1="193.50" x2="534.39" y2="311.00" stroke="#eaeaea" stroke-width="0.9"/>
<polyline points="462.21,227.33 474.24,223.36 494.29,223.94 514.34,219.97 534.39,224.64" fill="none" stroke="#E24A33" stroke-width="1.45" stroke-linejoin="round"/>
<polygon points="462.21,224.03 464.51,227.33 462.21,230.63 459.91,227.33" fill="#E24A33"/><polygon points="474.24,220.06 476.54,223.36 474.24,226.66 471.94,223.36" fill="#E24A33"/><polygon points="494.29,220.64 496.59,223.94 494.29,227.24 491.99,223.94" fill="#E24A33"/><polygon points="514.34,216.67 516.64,219.97 514.34,223.27 512.04,219.97" fill="#E24A33"/><polygon points="534.39,221.34 536.69,224.64 534.39,227.94 532.09,224.64" fill="#E24A33"/>
<polyline points="462.21,266.07 474.24,279.02 494.29,287.66 514.34,290.58 534.39,294.78" fill="none" stroke="#348ABD" stroke-width="1.45" stroke-linejoin="round"/>
<polygon points="462.21,262.77 464.51,266.07 462.21,269.37 459.91,266.07" fill="#348ABD"/><polygon points="474.24,275.72 476.54,279.02 474.24,282.32 471.94,279.02" fill="#348ABD"/><polygon points="494.29,284.36 496.59,287.66 494.29,290.96 491.99,287.66" fill="#348ABD"/><polygon points="514.34,287.28 516.64,290.58 514.34,293.88 512.04,290.58" fill="#348ABD"/><polygon points="534.39,291.48 536.69,294.78 534.39,298.08 532.09,294.78" fill="#348ABD"/>
<polyline points="462.21,270.15 474.24,286.49 494.29,294.78 514.34,296.41 534.39,298.75" fill="none" stroke="#FFD000" stroke-width="1.45" stroke-linejoin="round"/>
<polygon points="462.21,266.85 464.51,270.15 462.21,273.45 459.91,270.15" fill="#FFD000"/><polygon points="474.24,283.19 476.54,286.49 474.24,289.79 471.94,286.49" fill="#FFD000"/><polygon points="494.29,291.48 496.59,294.78 494.29,298.08 491.99,294.78" fill="#FFD000"/><polygon points="514.34,293.11 516.64,296.41 514.34,299.71 512.04,296.41" fill="#FFD000"/><polygon points="534.39,295.45 536.69,298.75 534.39,302.05 532.09,298.75" fill="#FFD000"/>
<polyline points="462.21,274.01 474.24,290.58 494.29,299.10 514.34,302.36 534.39,304.70" fill="none" stroke="#1DC81D" stroke-width="1.45" stroke-linejoin="round"/>
<polygon points="462.21,270.71 464.51,274.01 462.21,277.31 459.91,274.01" fill="#1DC81D"/><polygon points="474.24,287.28 476.54,290.58 474.24,293.88 471.94,290.58" fill="#1DC81D"/><polygon points="494.29,295.80 496.59,299.10 494.29,302.40 491.99,299.10" fill="#1DC81D"/><polygon points="514.34,299.06 516.64,302.36 514.34,305.66 512.04,302.36" fill="#1DC81D"/><polygon points="534.39,301.40 536.69,304.70 534.39,308.00 532.09,304.70" fill="#1DC81D"/>
<rect x="458.60" y="193.50" width="79.40" height="117.50" fill="none" stroke="#505050" stroke-width="1.3"/>
<text id="rxt112" x="462.209" y="325.600" font-size="10" text-anchor="middle" textLength="6.400" lengthAdjust="spacingAndGlyphs">2</text>
<text id="rxt115" x="474.239" y="325.600" font-size="10" text-anchor="middle" textLength="6.400" lengthAdjust="spacingAndGlyphs">5</text>
<text id="rxt1110" x="494.290" y="325.600" font-size="10" text-anchor="middle" textLength="12.700" lengthAdjust="spacingAndGlyphs">10</text>
<text id="rxt1115" x="514.340" y="325.600" font-size="10" text-anchor="middle" textLength="12.700" lengthAdjust="spacingAndGlyphs">15</text>
<text id="rxt1120" x="534.391" y="325.600" font-size="10" text-anchor="middle" textLength="12.700" lengthAdjust="spacingAndGlyphs">20</text>
<line x1="556.90" y1="299.33" x2="636.30" y2="299.33" stroke="#f4f4f4" stroke-width="0.8"/><line x1="556.90" y1="287.66" x2="636.30" y2="287.66" stroke="#eaeaea" stroke-width="0.9"/><line x1="556.90" y1="275.99" x2="636.30" y2="275.99" stroke="#f4f4f4" stroke-width="0.8"/><line x1="556.90" y1="264.32" x2="636.30" y2="264.32" stroke="#eaeaea" stroke-width="0.9"/><line x1="556.90" y1="252.65" x2="636.30" y2="252.65" stroke="#f4f4f4" stroke-width="0.8"/><line x1="556.90" y1="240.98" x2="636.30" y2="240.98" stroke="#eaeaea" stroke-width="0.9"/><line x1="556.90" y1="229.31" x2="636.30" y2="229.31" stroke="#f4f4f4" stroke-width="0.8"/><line x1="556.90" y1="217.64" x2="636.30" y2="217.64" stroke="#eaeaea" stroke-width="0.9"/><line x1="556.90" y1="205.97" x2="636.30" y2="205.97" stroke="#f4f4f4" stroke-width="0.8"/><line x1="556.90" y1="194.30" x2="636.30" y2="194.30" stroke="#eaeaea" stroke-width="0.9"/><line x1="560.51" y1="193.50" x2="560.51" y2="311.00" stroke="#eaeaea" stroke-width="0.9"/><line x1="572.54" y1="193.50" x2="572.54" y2="311.00" stroke="#eaeaea" stroke-width="0.9"/><line x1="592.59" y1="193.50" x2="592.59" y2="311.00" stroke="#eaeaea" stroke-width="0.9"/><line x1="612.64" y1="193.50" x2="612.64" y2="311.00" stroke="#eaeaea" stroke-width="0.9"/><line x1="632.69" y1="193.50" x2="632.69" y2="311.00" stroke="#eaeaea" stroke-width="0.9"/>
<polyline points="560.51,229.89 572.54,232.23 592.59,229.89 612.64,231.53 632.69,237.13" fill="none" stroke="#E24A33" stroke-width="1.45" stroke-linejoin="round"/>
<polygon points="560.51,226.59 562.81,229.89 560.51,233.19 558.21,229.89" fill="#E24A33"/><polygon points="572.54,228.93 574.84,232.23 572.54,235.53 570.24,232.23" fill="#E24A33"/><polygon points="592.59,226.59 594.89,229.89 592.59,233.19 590.29,229.89" fill="#E24A33"/><polygon points="612.64,228.23 614.94,231.53 612.64,234.83 610.34,231.53" fill="#E24A33"/><polygon points="632.69,233.83 634.99,237.13 632.69,240.43 630.39,237.13" fill="#E24A33"/>
<polyline points="560.51,213.09 572.54,216.71 592.59,215.77 612.64,217.64 632.69,217.99" fill="none" stroke="#348ABD" stroke-width="1.45" stroke-linejoin="round"/>
<polygon points="560.51,209.79 562.81,213.09 560.51,216.39 558.21,213.09" fill="#348ABD"/><polygon points="572.54,213.41 574.84,216.71 572.54,220.01 570.24,216.71" fill="#348ABD"/><polygon points="592.59,212.47 594.89,215.77 592.59,219.07 590.29,215.77" fill="#348ABD"/><polygon points="612.64,214.34 614.94,217.64 612.64,220.94 610.34,217.64" fill="#348ABD"/><polygon points="632.69,214.69 634.99,217.99 632.69,221.29 630.39,217.99" fill="#348ABD"/>
<polyline points="560.51,227.91 572.54,242.73 592.59,252.65 612.64,254.63 632.69,256.27" fill="none" stroke="#FFD000" stroke-width="1.45" stroke-linejoin="round"/>
<polygon points="560.51,224.61 562.81,227.91 560.51,231.21 558.21,227.91" fill="#FFD000"/><polygon points="572.54,239.43 574.84,242.73 572.54,246.03 570.24,242.73" fill="#FFD000"/><polygon points="592.59,249.35 594.89,252.65 592.59,255.95 590.29,252.65" fill="#FFD000"/><polygon points="612.64,251.33 614.94,254.63 612.64,257.93 610.34,254.63" fill="#FFD000"/><polygon points="632.69,252.97 634.99,256.27 632.69,259.57 630.39,256.27" fill="#FFD000"/>
<polyline points="560.51,205.97 572.54,203.64 592.59,202.47 612.64,202.47 632.69,201.30" fill="none" stroke="#1DC81D" stroke-width="1.45" stroke-linejoin="round"/>
<polygon points="560.51,202.67 562.81,205.97 560.51,209.27 558.21,205.97" fill="#1DC81D"/><polygon points="572.54,200.34 574.84,203.64 572.54,206.94 570.24,203.64" fill="#1DC81D"/><polygon points="592.59,199.17 594.89,202.47 592.59,205.77 590.29,202.47" fill="#1DC81D"/><polygon points="612.64,199.17 614.94,202.47 612.64,205.77 610.34,202.47" fill="#1DC81D"/><polygon points="632.69,198.00 634.99,201.30 632.69,204.60 630.39,201.30" fill="#1DC81D"/>
<rect x="556.90" y="193.50" width="79.40" height="117.50" fill="none" stroke="#505050" stroke-width="1.3"/>
<text id="rxt122" x="560.509" y="325.600" font-size="10" text-anchor="middle" textLength="6.400" lengthAdjust="spacingAndGlyphs">2</text>
<text id="rxt125" x="572.539" y="325.600" font-size="10" text-anchor="middle" textLength="6.400" lengthAdjust="spacingAndGlyphs">5</text>
<text id="rxt1210" x="592.590" y="325.600" font-size="10" text-anchor="middle" textLength="12.700" lengthAdjust="spacingAndGlyphs">10</text>
<text id="rxt1215" x="612.640" y="325.600" font-size="10" text-anchor="middle" textLength="12.700" lengthAdjust="spacingAndGlyphs">15</text>
<text id="rxt1220" x="632.691" y="325.600" font-size="10" text-anchor="middle" textLength="12.700" lengthAdjust="spacingAndGlyphs">20</text>
<text id="ylF1R1" transform="translate(334.200,272.751) rotate(-90)" font-size="11.0" text-anchor="start" textLength="41.604" lengthAdjust="spacingAndGlyphs"><tspan font-style="italic">F</tspan><tspan font-size="7.5" dy="2">1</tspan><tspan dy="-2"> Score</tspan></text>
<text id="ylPrR1" transform="translate(455.000,274.977) rotate(-90)" font-size="11.0" text-anchor="start" textLength="45.586" lengthAdjust="spacingAndGlyphs">Precision</text>
<text id="ylReR1" transform="translate(552.700,267.144) rotate(-90)" font-size="11.0" text-anchor="start" textLength="30.219" lengthAdjust="spacingAndGlyphs">Recall</text>
<text id="r1num" x="354.684" y="23.900" font-size="10.8" text-anchor="start" textLength="10.427" lengthAdjust="spacingAndGlyphs">1)</text>
<text id="r1title" x="428.917" y="24.700" font-size="10.8" text-anchor="start" textLength="138.154" lengthAdjust="spacingAndGlyphs">T = 2000, ω<tspan font-size="8" dy="2">max</tspan><tspan dy="-2"> = 5, n = 5</tspan></text>
<text id="r2num" x="355.112" y="188.900" font-size="10.8" text-anchor="start" textLength="10.852" lengthAdjust="spacingAndGlyphs">2)</text>
<text id="r2title" x="420.733" y="189.400" font-size="10.8" text-anchor="start" textLength="154.253" lengthAdjust="spacingAndGlyphs">T = 2000, ω<tspan font-size="8" dy="2">max</tspan><tspan dy="-2"> = 5, τ</tspan><tspan font-size="8" dy="2">max</tspan><tspan dy="-2"> = 5</tspan></text>
<text id="tauxl" x="488.180" y="171.800" font-size="10.8" text-anchor="start" textLength="19.440" lengthAdjust="spacingAndGlyphs">τ<tspan font-size="8" dy="2" font-style="italic">max</tspan></text>
<text id="nxl" x="498.400" y="336.400" font-size="10.8" text-anchor="middle" textLength="6.400" lengthAdjust="spacingAndGlyphs">n</text>
<rect x="211.2" y="279.3" width="101.5" height="64.1" rx="2.5" fill="#fff" fill-opacity="0.8" stroke="#d5d5d5" stroke-width="0.9"/>
<line x1="215.1" y1="287.40" x2="236.7" y2="287.40" stroke="#E24A33" stroke-width="1.45"/>
<polygon points="225.90,285.45 223.80,289.35 228.00,289.35" fill="#E24A33"/>
<text id="legL0" x="243.585" y="291.200" font-size="10.4" text-anchor="start" textLength="39.918" lengthAdjust="spacingAndGlyphs" font-style="italic">PCMCI<tspan font-size="7.5" dy="2.5" font-style="normal">Ω</tspan></text>
<line x1="215.1" y1="302.60" x2="236.7" y2="302.60" stroke="#348ABD" stroke-width="1.45" stroke-dasharray="3.1,1.5"/>
<polygon points="225.90,304.55 223.80,300.65 228.00,300.65" fill="#348ABD"/>
<text id="legL1" x="243.583" y="306.400" font-size="10.4" text-anchor="start" textLength="32.308" lengthAdjust="spacingAndGlyphs" font-style="italic">PCMCI</text>
<line x1="215.1" y1="317.80" x2="236.7" y2="317.80" stroke="#FFD000" stroke-width="1.45"/>
<polygon points="225.90,315.85 223.80,319.75 228.00,319.75" fill="#FFD000"/>
<text id="legL2" x="243.583" y="321.600" font-size="10.4" text-anchor="start" textLength="61.266" lengthAdjust="spacingAndGlyphs" font-style="italic">VARLiNGAM</text>
<line x1="215.1" y1="333.00" x2="236.7" y2="333.00" stroke="#1DC81D" stroke-width="1.45" stroke-dasharray="3.1,1.5"/>
<polygon points="225.90,334.95 223.80,331.05 228.00,331.05" fill="#1DC81D"/>
<text id="legL3" x="243.589" y="336.800" font-size="10.4" text-anchor="start" textLength="64.082" lengthAdjust="spacingAndGlyphs" font-style="italic">DYNOTEARS</text>
<rect x="541.2" y="281.9" width="97.7" height="61.0" rx="2.5" fill="#fff" fill-opacity="0.8" stroke="#d5d5d5" stroke-width="0.9"/>
<line x1="545.1" y1="290.30" x2="565.6" y2="290.30" stroke="#E24A33" stroke-width="1.45"/>
<line x1="555.4" y1="285.10" x2="555.4" y2="295.50" stroke="#E24A33" stroke-width="1.3"/>
<line x1="553.6" y1="285.10" x2="557.2" y2="285.10" stroke="#E24A33" stroke-width="1.1"/>
<line x1="553.6" y1="295.50" x2="557.2" y2="295.50" stroke="#E24A33" stroke-width="1.1"/>
<polygon points="555.40,287.30 557.70,290.30 555.40,293.30 553.10,290.30" fill="#E24A33"/>
<text id="legR0" x="573.299" y="294.100" font-size="10.0" text-anchor="start" textLength="37.047" lengthAdjust="spacingAndGlyphs" font-style="italic">PCMCI<tspan font-size="7.5" dy="2.5" font-style="normal">Ω</tspan></text>
<line x1="545.1" y1="304.75" x2="565.6" y2="304.75" stroke="#348ABD" stroke-width="1.45"/>
<line x1="555.4" y1="299.55" x2="555.4" y2="309.95" stroke="#348ABD" stroke-width="1.3"/>
<line x1="553.6" y1="299.55" x2="557.2" y2="299.55" stroke="#348ABD" stroke-width="1.1"/>
<line x1="553.6" y1="309.95" x2="557.2" y2="309.95" stroke="#348ABD" stroke-width="1.1"/>
<polygon points="555.40,301.75 557.70,304.75 555.40,307.75 553.10,304.75" fill="#348ABD"/>
<text id="legR1" x="573.297" y="308.550" font-size="10.0" text-anchor="start" textLength="30.870" lengthAdjust="spacingAndGlyphs" font-style="italic">PCMCI</text>
<line x1="545.1" y1="319.20" x2="565.6" y2="319.20" stroke="#FFD000" stroke-width="1.45"/>
<line x1="555.4" y1="314.00" x2="555.4" y2="324.40" stroke="#FFD000" stroke-width="1.3"/>
<line x1="553.6" y1="314.00" x2="557.2" y2="314.00" stroke="#FFD000" stroke-width="1.1"/>
<line x1="553.6" y1="324.40" x2="557.2" y2="324.40" stroke="#FFD000" stroke-width="1.1"/>
<polygon points="555.40,316.20 557.70,319.20 555.40,322.20 553.10,319.20" fill="#FFD000"/>
<text id="legR2" x="572.270" y="323.000" font-size="10.0" text-anchor="start" textLength="59.628" lengthAdjust="spacingAndGlyphs" font-style="italic">VARLiNGAM</text>
<line x1="545.1" y1="333.65" x2="565.6" y2="333.65" stroke="#1DC81D" stroke-width="1.45"/>
<line x1="555.4" y1="328.45" x2="555.4" y2="338.85" stroke="#1DC81D" stroke-width="1.3"/>
<line x1="553.6" y1="328.45" x2="557.2" y2="328.45" stroke="#1DC81D" stroke-width="1.1"/>
<line x1="553.6" y1="338.85" x2="557.2" y2="338.85" stroke="#1DC81D" stroke-width="1.1"/>
<polygon points="555.40,330.65 557.70,333.65 555.40,336.65 553.10,333.65" fill="#1DC81D"/>
<text id="legR3" x="573.300" y="337.450" font-size="10.0" text-anchor="start" textLength="61.251" lengthAdjust="spacingAndGlyphs" font-style="italic">DYNOTEARS</text>
<text id="capa" x="98.399" y="367.400" font-size="16.4" text-anchor="start" textLength="116.589" lengthAdjust="spacingAndGlyphs" class="cap" font-family='"Liberation Serif", serif' fill="#000">(a) <tspan dx="2.2">Gaussian noise</tspan></text>
<text id="capb" x="357.579" y="367.400" font-size="16.4" text-anchor="start" textLength="249.559" lengthAdjust="spacingAndGlyphs" class="cap" font-family='"Liberation Serif", serif' fill="#000">(b) <tspan dx="2.2">Performance when</tspan> <tspan font-style="italic">τ</tspan><tspan font-size="11.5" dy="2">max</tspan><tspan dy="-2"> or </tspan><tspan font-style="italic">n</tspan> varies</text>
</svg></body></html>
